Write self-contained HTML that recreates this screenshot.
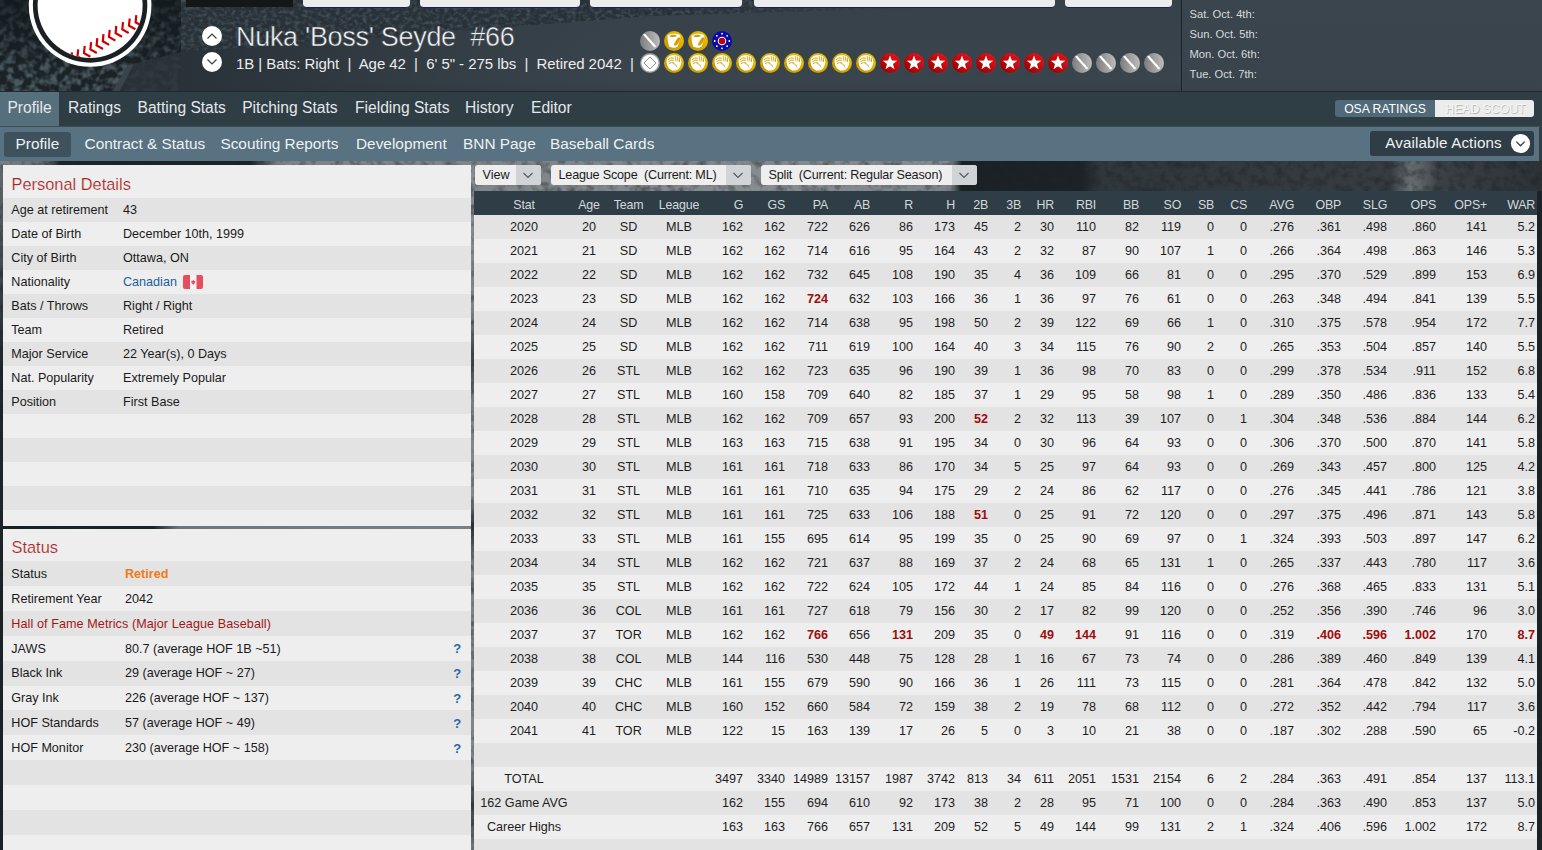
<!DOCTYPE html>
<html><head><meta charset="utf-8"><title>Player Profile</title>
<style>
html,body{margin:0;padding:0;}
body{width:1542px;height:850px;overflow:hidden;position:relative;background:#22292d;font-family:'Liberation Sans', sans-serif;}
body>div{position:absolute;}
.t{white-space:pre;}
</style></head><body>
<div style="left:0px;top:0px;width:1542px;height:92px;background:#39434b;"></div>
<div style="left:181px;top:0px;width:1000px;height:92px;background:linear-gradient(180deg,#37414a 0px,#39434b 50px,#3a444c 80px,#363f47 92px);"></div>
<svg style="position:absolute;left:181px;top:0" width="1000" height="92">
<defs><filter id="crowd2" x="0" y="0" width="100%" height="100%" color-interpolation-filters="sRGB">
<feTurbulence type="fractalNoise" baseFrequency="0.22 0.28" numOctaves="2" seed="5"/>
<feColorMatrix type="matrix" values="0 0 0 0 0.26  0 0 0 0 0.31  0 0 0 0 0.34  2.6 0 0 0 -1.1"/>
</filter>
<linearGradient id="fdark" x1="0" x2="1" y1="0" y2="0"><stop offset="0" stop-color="#283137" stop-opacity="0.95"/><stop offset="0.12" stop-color="#2b343a" stop-opacity="0.8"/><stop offset="0.45" stop-color="#2f3940" stop-opacity="0"/></linearGradient>
<linearGradient id="sfade" x1="0" x2="1" y1="0" y2="0"><stop offset="0" stop-color="#fff"/><stop offset="0.5" stop-color="#fff"/><stop offset="0.75" stop-color="#000"/></linearGradient>
<mask id="smask"><rect width="1000" height="92" fill="url(#sfade)"/></mask>
<clipPath id="stands"><path d="M0,0 L1000,0 L1000,4 L700,9 L470,16 L290,30 L120,44 L0,52 Z"/></clipPath>
</defs>
<rect width="1000" height="92" fill="url(#fdark)"/>
<g mask="url(#smask)" clip-path="url(#stands)"><rect width="1000" height="92" fill="#283137"/><rect width="1000" height="92" filter="url(#crowd2)"/></g>
</svg>
<div style="left:1182px;top:0px;width:360px;height:92px;background:linear-gradient(180deg,#3b454d,#39434b);"></div>
<div style="left:1181px;top:0px;width:1px;height:92px;background:#1d2327;"></div>
<svg style="position:absolute;left:0;top:0" width="181" height="92">
<defs><filter id="crowd" x="0" y="0" width="100%" height="100%" color-interpolation-filters="sRGB">
<feTurbulence type="fractalNoise" baseFrequency="0.14" numOctaves="2" seed="11"/>
<feColorMatrix type="matrix" values="0 0 0 0 0.29  0 0 0 0 0.35  0 0 0 0 0.38  3.2 0 0 0 -1.3"/>
</filter>
<linearGradient id="cfade" x1="0" x2="1" y1="0" y2="0"><stop offset="0.75" stop-color="#1d262b" stop-opacity="0"/><stop offset="1" stop-color="#1d262b" stop-opacity="0.6"/></linearGradient>
</defs>
<linearGradient id="ctop" x1="0" x2="0" y1="0" y2="1"><stop offset="0" stop-color="#10171a" stop-opacity="0.75"/><stop offset="0.45" stop-color="#10171a" stop-opacity="0.35"/><stop offset="0.8" stop-color="#10171a" stop-opacity="0"/></linearGradient>
<rect width="181" height="92" fill="#1b2327"/>
<rect width="181" height="92" filter="url(#crowd)"/>
<rect width="181" height="92" fill="url(#ctop)"/>
<path d="M128,65 L181,52 L181,92 L112,92 Z" fill="#2a343a" opacity="0.85"/>
<path d="M112,92 L128,65 L134,64 L119,92 Z" fill="#3b474e" opacity="0.9"/>
</svg>
<div style="left:186px;top:0px;width:107px;height:7px;background:#131718;"></div>
<div style="left:303px;top:-3px;width:107px;height:11px;background:#ececec;border-bottom:1.2px solid #141f6e;border-radius:0 0 4px 4px;box-sizing:border-box;"></div>
<div style="left:420px;top:-3px;width:160px;height:11px;background:#ececec;border-bottom:1.2px solid #141f6e;border-radius:0 0 4px 4px;box-sizing:border-box;"></div>
<div style="left:590px;top:-3px;width:152px;height:11px;background:#ececec;border-bottom:1.2px solid #141f6e;border-radius:0 0 4px 4px;box-sizing:border-box;"></div>
<div style="left:754px;top:-3px;width:301px;height:11px;background:#ececec;border-bottom:1.2px solid #141f6e;border-radius:0 0 4px 4px;box-sizing:border-box;"></div>
<div style="left:1065px;top:-3px;width:107px;height:11px;background:#ececec;border-bottom:1.2px solid #141f6e;border-radius:0 0 4px 4px;box-sizing:border-box;"></div>
<svg style="position:absolute;left:0;top:0" width="181" height="92" viewBox="0 0 181 92">
<circle cx="90.1" cy="5.5" r="61.3" fill="#fff"/>
<circle cx="90.1" cy="5.5" r="57.2" fill="#1a2125"/>
<circle cx="90.1" cy="5.5" r="52.5" fill="#fff"/>
<clipPath id="inner"><circle cx="90.1" cy="5.5" r="52.5"/></clipPath>
<g stroke="#d00000" stroke-width="2.2" fill="none" stroke-linecap="butt" stroke-linejoin="miter" clip-path="url(#inner)">
<path d="M72.00,52.40 L71.30,59.60 L77.70,63.20" /><path d="M78.20,49.30 L77.50,56.50 L83.90,60.10" /><path d="M84.70,46.00 L84.00,53.20 L90.40,56.80" /><path d="M91.10,42.20 L90.40,49.40 L96.80,53.00" /><path d="M97.30,38.20 L96.60,45.40 L103.00,49.00" /><path d="M103.50,34.10 L102.80,41.30 L109.20,44.90" /><path d="M109.70,29.80 L109.00,37.00 L115.40,40.60" /><path d="M116.30,25.90 L115.60,33.10 L122.00,36.70" /><path d="M123.00,22.20 L122.30,29.40 L128.70,33.00" /><path d="M129.70,18.50 L129.00,25.70 L135.40,29.30" /><path d="M136.30,15.10 L135.60,22.30 L142.00,25.90" /></g></svg>
<svg style="position:absolute;left:201px;top:25px" width="22" height="48" viewBox="0 0 22 48">
<circle cx="11" cy="11" r="10" fill="#fff"/>
<path d="M6.5,13.5 L11,9 L15.5,13.5" stroke="#3a3f44" stroke-width="1.2" fill="none"/>
<circle cx="11" cy="37" r="10" fill="#fff"/>
<path d="M6.5,34.5 L11,39 L15.5,34.5" stroke="#3a3f44" stroke-width="1.2" fill="none"/>
</svg>
<div class="t" style="top:24.05px;font-size:27px;line-height:27px;color:#f4f4f4;letter-spacing:-0.3px;left:236px;-webkit-text-stroke:0.5px #37414a;">Nuka &#x27;Boss&#x27; Seyde  #66</div>
<div class="t" style="top:56.25px;font-size:15px;line-height:15px;color:#ececec;letter-spacing:-0.05px;left:236px;">1B | Bats: Right  |  Age 42  |  6&#x27; 5&quot; - 275 lbs  |  Retired 2042  |</div>
<div class="t" style="top:8.88px;font-size:11.2px;line-height:11.2px;color:#d7dadc;left:1189.5px;">Sat. Oct. 4th:</div>
<div class="t" style="top:28.88px;font-size:11.2px;line-height:11.2px;color:#d7dadc;left:1189.5px;">Sun. Oct. 5th:</div>
<div class="t" style="top:48.88px;font-size:11.2px;line-height:11.2px;color:#d7dadc;left:1189.5px;">Mon. Oct. 6th:</div>
<div class="t" style="top:68.88px;font-size:11.2px;line-height:11.2px;color:#d7dadc;left:1189.5px;">Tue. Oct. 7th:</div>
<svg style="position:absolute;left:639px;top:30px" width="22" height="22" viewBox="0 0 22 22"><defs><linearGradient id="gb" x1="0" x2="1" y1="0" y2="0"><stop offset="0" stop-color="#7d7d7d"/><stop offset="1" stop-color="#bdbdbd"/></linearGradient></defs>
<circle cx="11" cy="11" r="10" fill="url(#gb)"/><path d="M5.5,4.8 L15.8,16.2" stroke="#fff" stroke-width="2.2" stroke-linecap="round"/></svg>
<svg style="position:absolute;left:663px;top:30px" width="22" height="22" viewBox="0 0 22 22"><defs><linearGradient id="gc" x1="0" x2="1" y1="1" y2="0"><stop offset="0" stop-color="#c29400"/><stop offset="1" stop-color="#f4c400"/></linearGradient></defs>
<circle cx="11" cy="11" r="10" fill="url(#gc)"/><path d="M4.6,5.6 C7.5,3.4 13,3.2 16.8,5 C17.6,6 17.4,8.5 16.6,10.5 L14.6,16.4 C12,18.2 8.5,18 6.2,16.6 C5,13 4.5,9 4.6,5.6 Z" fill="#fff"/>
<path d="M6.2,6.2 C8,4.4 12,4.2 14,5.6 C12.5,7.4 8.6,7.6 6.2,6.2 Z" fill="#d1a000"/>
<ellipse cx="14.2" cy="11.6" rx="1.7" ry="4.8" transform="rotate(32 14.2 11.6)" fill="#d1a000"/></svg>
<svg style="position:absolute;left:687px;top:30px" width="22" height="22" viewBox="0 0 22 22"><defs><linearGradient id="gc" x1="0" x2="1" y1="1" y2="0"><stop offset="0" stop-color="#c29400"/><stop offset="1" stop-color="#f4c400"/></linearGradient></defs>
<circle cx="11" cy="11" r="10" fill="url(#gc)"/><path d="M4.6,5.6 C7.5,3.4 13,3.2 16.8,5 C17.6,6 17.4,8.5 16.6,10.5 L14.6,16.4 C12,18.2 8.5,18 6.2,16.6 C5,13 4.5,9 4.6,5.6 Z" fill="#fff"/>
<path d="M6.2,6.2 C8,4.4 12,4.2 14,5.6 C12.5,7.4 8.6,7.6 6.2,6.2 Z" fill="#d1a000"/>
<ellipse cx="14.2" cy="11.6" rx="1.7" ry="4.8" transform="rotate(32 14.2 11.6)" fill="#d1a000"/></svg>
<svg style="position:absolute;left:711px;top:30px" width="22" height="22" viewBox="0 0 22 22"><circle cx="11" cy="11" r="10" fill="#0a0aa6"/><circle cx="18.30" cy="11.00" r="0.9" fill="#fff"/><circle cx="16.16" cy="16.16" r="0.9" fill="#fff"/><circle cx="11.00" cy="18.30" r="0.9" fill="#fff"/><circle cx="5.84" cy="16.16" r="0.9" fill="#fff"/><circle cx="3.70" cy="11.00" r="0.9" fill="#fff"/><circle cx="5.84" cy="5.84" r="0.9" fill="#fff"/><circle cx="11.00" cy="3.70" r="0.9" fill="#fff"/><circle cx="16.16" cy="5.84" r="0.9" fill="#fff"/><circle cx="11" cy="11" r="4.3" fill="#fff"/><circle cx="11" cy="11" r="3.3" fill="#c00010"/></svg>
<svg style="position:absolute;left:639px;top:52px" width="22" height="22" viewBox="0 0 22 22"><circle cx="11" cy="11" r="10" fill="#9a9a9a"/><circle cx="11" cy="11" r="8.6" fill="#fff"/>
<path d="M11,5 L17,11 L11,17 L5,11 Z" fill="none" stroke="#777" stroke-width="0.8"/></svg>
<svg style="position:absolute;left:663px;top:52px" width="22" height="22" viewBox="0 0 22 22"><defs><linearGradient id="gg" x1="0" x2="1" y1="1" y2="0"><stop offset="0" stop-color="#c29400"/><stop offset="1" stop-color="#f4c400"/></linearGradient></defs>
<circle cx="11" cy="11" r="10" fill="url(#gg)"/><path d="M3.6,9 C3.8,5 7,3.2 11,3.3 C15,3.3 18,5 18.3,9 C18.6,14 15.5,18.6 11,18.6 C6.5,18.6 3.4,14 3.6,9 Z" fill="#fff"/>
<path d="M4.8,8 Q8,4.6 11.2,6.2 M5.2,10 Q8,7 11,8.3 M6,11.8 Q8.5,9.6 10.6,10.4 M12.6,4.3 L12.9,9.2 M14.6,4.6 L14.9,9.6 M16.4,5.8 L16.5,10.2 M9.6,11.2 Q12.8,11.6 14,15.2" stroke="#c99c00" stroke-width="0.85" fill="none"/></svg>
<svg style="position:absolute;left:687px;top:52px" width="22" height="22" viewBox="0 0 22 22"><defs><linearGradient id="gg" x1="0" x2="1" y1="1" y2="0"><stop offset="0" stop-color="#c29400"/><stop offset="1" stop-color="#f4c400"/></linearGradient></defs>
<circle cx="11" cy="11" r="10" fill="url(#gg)"/><path d="M3.6,9 C3.8,5 7,3.2 11,3.3 C15,3.3 18,5 18.3,9 C18.6,14 15.5,18.6 11,18.6 C6.5,18.6 3.4,14 3.6,9 Z" fill="#fff"/>
<path d="M4.8,8 Q8,4.6 11.2,6.2 M5.2,10 Q8,7 11,8.3 M6,11.8 Q8.5,9.6 10.6,10.4 M12.6,4.3 L12.9,9.2 M14.6,4.6 L14.9,9.6 M16.4,5.8 L16.5,10.2 M9.6,11.2 Q12.8,11.6 14,15.2" stroke="#c99c00" stroke-width="0.85" fill="none"/></svg>
<svg style="position:absolute;left:711px;top:52px" width="22" height="22" viewBox="0 0 22 22"><defs><linearGradient id="gg" x1="0" x2="1" y1="1" y2="0"><stop offset="0" stop-color="#c29400"/><stop offset="1" stop-color="#f4c400"/></linearGradient></defs>
<circle cx="11" cy="11" r="10" fill="url(#gg)"/><path d="M3.6,9 C3.8,5 7,3.2 11,3.3 C15,3.3 18,5 18.3,9 C18.6,14 15.5,18.6 11,18.6 C6.5,18.6 3.4,14 3.6,9 Z" fill="#fff"/>
<path d="M4.8,8 Q8,4.6 11.2,6.2 M5.2,10 Q8,7 11,8.3 M6,11.8 Q8.5,9.6 10.6,10.4 M12.6,4.3 L12.9,9.2 M14.6,4.6 L14.9,9.6 M16.4,5.8 L16.5,10.2 M9.6,11.2 Q12.8,11.6 14,15.2" stroke="#c99c00" stroke-width="0.85" fill="none"/></svg>
<svg style="position:absolute;left:735px;top:52px" width="22" height="22" viewBox="0 0 22 22"><defs><linearGradient id="gg" x1="0" x2="1" y1="1" y2="0"><stop offset="0" stop-color="#c29400"/><stop offset="1" stop-color="#f4c400"/></linearGradient></defs>
<circle cx="11" cy="11" r="10" fill="url(#gg)"/><path d="M3.6,9 C3.8,5 7,3.2 11,3.3 C15,3.3 18,5 18.3,9 C18.6,14 15.5,18.6 11,18.6 C6.5,18.6 3.4,14 3.6,9 Z" fill="#fff"/>
<path d="M4.8,8 Q8,4.6 11.2,6.2 M5.2,10 Q8,7 11,8.3 M6,11.8 Q8.5,9.6 10.6,10.4 M12.6,4.3 L12.9,9.2 M14.6,4.6 L14.9,9.6 M16.4,5.8 L16.5,10.2 M9.6,11.2 Q12.8,11.6 14,15.2" stroke="#c99c00" stroke-width="0.85" fill="none"/></svg>
<svg style="position:absolute;left:759px;top:52px" width="22" height="22" viewBox="0 0 22 22"><defs><linearGradient id="gg" x1="0" x2="1" y1="1" y2="0"><stop offset="0" stop-color="#c29400"/><stop offset="1" stop-color="#f4c400"/></linearGradient></defs>
<circle cx="11" cy="11" r="10" fill="url(#gg)"/><path d="M3.6,9 C3.8,5 7,3.2 11,3.3 C15,3.3 18,5 18.3,9 C18.6,14 15.5,18.6 11,18.6 C6.5,18.6 3.4,14 3.6,9 Z" fill="#fff"/>
<path d="M4.8,8 Q8,4.6 11.2,6.2 M5.2,10 Q8,7 11,8.3 M6,11.8 Q8.5,9.6 10.6,10.4 M12.6,4.3 L12.9,9.2 M14.6,4.6 L14.9,9.6 M16.4,5.8 L16.5,10.2 M9.6,11.2 Q12.8,11.6 14,15.2" stroke="#c99c00" stroke-width="0.85" fill="none"/></svg>
<svg style="position:absolute;left:783px;top:52px" width="22" height="22" viewBox="0 0 22 22"><defs><linearGradient id="gg" x1="0" x2="1" y1="1" y2="0"><stop offset="0" stop-color="#c29400"/><stop offset="1" stop-color="#f4c400"/></linearGradient></defs>
<circle cx="11" cy="11" r="10" fill="url(#gg)"/><path d="M3.6,9 C3.8,5 7,3.2 11,3.3 C15,3.3 18,5 18.3,9 C18.6,14 15.5,18.6 11,18.6 C6.5,18.6 3.4,14 3.6,9 Z" fill="#fff"/>
<path d="M4.8,8 Q8,4.6 11.2,6.2 M5.2,10 Q8,7 11,8.3 M6,11.8 Q8.5,9.6 10.6,10.4 M12.6,4.3 L12.9,9.2 M14.6,4.6 L14.9,9.6 M16.4,5.8 L16.5,10.2 M9.6,11.2 Q12.8,11.6 14,15.2" stroke="#c99c00" stroke-width="0.85" fill="none"/></svg>
<svg style="position:absolute;left:807px;top:52px" width="22" height="22" viewBox="0 0 22 22"><defs><linearGradient id="gg" x1="0" x2="1" y1="1" y2="0"><stop offset="0" stop-color="#c29400"/><stop offset="1" stop-color="#f4c400"/></linearGradient></defs>
<circle cx="11" cy="11" r="10" fill="url(#gg)"/><path d="M3.6,9 C3.8,5 7,3.2 11,3.3 C15,3.3 18,5 18.3,9 C18.6,14 15.5,18.6 11,18.6 C6.5,18.6 3.4,14 3.6,9 Z" fill="#fff"/>
<path d="M4.8,8 Q8,4.6 11.2,6.2 M5.2,10 Q8,7 11,8.3 M6,11.8 Q8.5,9.6 10.6,10.4 M12.6,4.3 L12.9,9.2 M14.6,4.6 L14.9,9.6 M16.4,5.8 L16.5,10.2 M9.6,11.2 Q12.8,11.6 14,15.2" stroke="#c99c00" stroke-width="0.85" fill="none"/></svg>
<svg style="position:absolute;left:831px;top:52px" width="22" height="22" viewBox="0 0 22 22"><defs><linearGradient id="gg" x1="0" x2="1" y1="1" y2="0"><stop offset="0" stop-color="#c29400"/><stop offset="1" stop-color="#f4c400"/></linearGradient></defs>
<circle cx="11" cy="11" r="10" fill="url(#gg)"/><path d="M3.6,9 C3.8,5 7,3.2 11,3.3 C15,3.3 18,5 18.3,9 C18.6,14 15.5,18.6 11,18.6 C6.5,18.6 3.4,14 3.6,9 Z" fill="#fff"/>
<path d="M4.8,8 Q8,4.6 11.2,6.2 M5.2,10 Q8,7 11,8.3 M6,11.8 Q8.5,9.6 10.6,10.4 M12.6,4.3 L12.9,9.2 M14.6,4.6 L14.9,9.6 M16.4,5.8 L16.5,10.2 M9.6,11.2 Q12.8,11.6 14,15.2" stroke="#c99c00" stroke-width="0.85" fill="none"/></svg>
<svg style="position:absolute;left:855px;top:52px" width="22" height="22" viewBox="0 0 22 22"><defs><linearGradient id="gg" x1="0" x2="1" y1="1" y2="0"><stop offset="0" stop-color="#c29400"/><stop offset="1" stop-color="#f4c400"/></linearGradient></defs>
<circle cx="11" cy="11" r="10" fill="url(#gg)"/><path d="M3.6,9 C3.8,5 7,3.2 11,3.3 C15,3.3 18,5 18.3,9 C18.6,14 15.5,18.6 11,18.6 C6.5,18.6 3.4,14 3.6,9 Z" fill="#fff"/>
<path d="M4.8,8 Q8,4.6 11.2,6.2 M5.2,10 Q8,7 11,8.3 M6,11.8 Q8.5,9.6 10.6,10.4 M12.6,4.3 L12.9,9.2 M14.6,4.6 L14.9,9.6 M16.4,5.8 L16.5,10.2 M9.6,11.2 Q12.8,11.6 14,15.2" stroke="#c99c00" stroke-width="0.85" fill="none"/></svg>
<svg style="position:absolute;left:879px;top:52px" width="22" height="22" viewBox="0 0 22 22"><defs><linearGradient id="gs" x1="0" x2="1" y1="1" y2="0"><stop offset="0" stop-color="#8e0000"/><stop offset="1" stop-color="#f0151d"/></linearGradient></defs>
<circle cx="11" cy="11" r="10" fill="url(#gs)"/><path d="M11,3.6 L12.9,8.6 L18.2,8.8 L14,12.1 L15.5,17.3 L11,14.3 L6.5,17.3 L8,12.1 L3.8,8.8 L9.1,8.6 Z" fill="#fff"/></svg>
<svg style="position:absolute;left:903px;top:52px" width="22" height="22" viewBox="0 0 22 22"><defs><linearGradient id="gs" x1="0" x2="1" y1="1" y2="0"><stop offset="0" stop-color="#8e0000"/><stop offset="1" stop-color="#f0151d"/></linearGradient></defs>
<circle cx="11" cy="11" r="10" fill="url(#gs)"/><path d="M11,3.6 L12.9,8.6 L18.2,8.8 L14,12.1 L15.5,17.3 L11,14.3 L6.5,17.3 L8,12.1 L3.8,8.8 L9.1,8.6 Z" fill="#fff"/></svg>
<svg style="position:absolute;left:927px;top:52px" width="22" height="22" viewBox="0 0 22 22"><defs><linearGradient id="gs" x1="0" x2="1" y1="1" y2="0"><stop offset="0" stop-color="#8e0000"/><stop offset="1" stop-color="#f0151d"/></linearGradient></defs>
<circle cx="11" cy="11" r="10" fill="url(#gs)"/><path d="M11,3.6 L12.9,8.6 L18.2,8.8 L14,12.1 L15.5,17.3 L11,14.3 L6.5,17.3 L8,12.1 L3.8,8.8 L9.1,8.6 Z" fill="#fff"/></svg>
<svg style="position:absolute;left:951px;top:52px" width="22" height="22" viewBox="0 0 22 22"><defs><linearGradient id="gs" x1="0" x2="1" y1="1" y2="0"><stop offset="0" stop-color="#8e0000"/><stop offset="1" stop-color="#f0151d"/></linearGradient></defs>
<circle cx="11" cy="11" r="10" fill="url(#gs)"/><path d="M11,3.6 L12.9,8.6 L18.2,8.8 L14,12.1 L15.5,17.3 L11,14.3 L6.5,17.3 L8,12.1 L3.8,8.8 L9.1,8.6 Z" fill="#fff"/></svg>
<svg style="position:absolute;left:975px;top:52px" width="22" height="22" viewBox="0 0 22 22"><defs><linearGradient id="gs" x1="0" x2="1" y1="1" y2="0"><stop offset="0" stop-color="#8e0000"/><stop offset="1" stop-color="#f0151d"/></linearGradient></defs>
<circle cx="11" cy="11" r="10" fill="url(#gs)"/><path d="M11,3.6 L12.9,8.6 L18.2,8.8 L14,12.1 L15.5,17.3 L11,14.3 L6.5,17.3 L8,12.1 L3.8,8.8 L9.1,8.6 Z" fill="#fff"/></svg>
<svg style="position:absolute;left:999px;top:52px" width="22" height="22" viewBox="0 0 22 22"><defs><linearGradient id="gs" x1="0" x2="1" y1="1" y2="0"><stop offset="0" stop-color="#8e0000"/><stop offset="1" stop-color="#f0151d"/></linearGradient></defs>
<circle cx="11" cy="11" r="10" fill="url(#gs)"/><path d="M11,3.6 L12.9,8.6 L18.2,8.8 L14,12.1 L15.5,17.3 L11,14.3 L6.5,17.3 L8,12.1 L3.8,8.8 L9.1,8.6 Z" fill="#fff"/></svg>
<svg style="position:absolute;left:1023px;top:52px" width="22" height="22" viewBox="0 0 22 22"><defs><linearGradient id="gs" x1="0" x2="1" y1="1" y2="0"><stop offset="0" stop-color="#8e0000"/><stop offset="1" stop-color="#f0151d"/></linearGradient></defs>
<circle cx="11" cy="11" r="10" fill="url(#gs)"/><path d="M11,3.6 L12.9,8.6 L18.2,8.8 L14,12.1 L15.5,17.3 L11,14.3 L6.5,17.3 L8,12.1 L3.8,8.8 L9.1,8.6 Z" fill="#fff"/></svg>
<svg style="position:absolute;left:1047px;top:52px" width="22" height="22" viewBox="0 0 22 22"><defs><linearGradient id="gs" x1="0" x2="1" y1="1" y2="0"><stop offset="0" stop-color="#8e0000"/><stop offset="1" stop-color="#f0151d"/></linearGradient></defs>
<circle cx="11" cy="11" r="10" fill="url(#gs)"/><path d="M11,3.6 L12.9,8.6 L18.2,8.8 L14,12.1 L15.5,17.3 L11,14.3 L6.5,17.3 L8,12.1 L3.8,8.8 L9.1,8.6 Z" fill="#fff"/></svg>
<svg style="position:absolute;left:1071px;top:52px" width="22" height="22" viewBox="0 0 22 22"><defs><linearGradient id="gb" x1="0" x2="1" y1="0" y2="0"><stop offset="0" stop-color="#7d7d7d"/><stop offset="1" stop-color="#bdbdbd"/></linearGradient></defs>
<circle cx="11" cy="11" r="10" fill="url(#gb)"/><path d="M5.5,4.8 L15.8,16.2" stroke="#fff" stroke-width="2.2" stroke-linecap="round"/></svg>
<svg style="position:absolute;left:1095px;top:52px" width="22" height="22" viewBox="0 0 22 22"><defs><linearGradient id="gb" x1="0" x2="1" y1="0" y2="0"><stop offset="0" stop-color="#7d7d7d"/><stop offset="1" stop-color="#bdbdbd"/></linearGradient></defs>
<circle cx="11" cy="11" r="10" fill="url(#gb)"/><path d="M5.5,4.8 L15.8,16.2" stroke="#fff" stroke-width="2.2" stroke-linecap="round"/></svg>
<svg style="position:absolute;left:1119px;top:52px" width="22" height="22" viewBox="0 0 22 22"><defs><linearGradient id="gb" x1="0" x2="1" y1="0" y2="0"><stop offset="0" stop-color="#7d7d7d"/><stop offset="1" stop-color="#bdbdbd"/></linearGradient></defs>
<circle cx="11" cy="11" r="10" fill="url(#gb)"/><path d="M5.5,4.8 L15.8,16.2" stroke="#fff" stroke-width="2.2" stroke-linecap="round"/></svg>
<svg style="position:absolute;left:1143px;top:52px" width="22" height="22" viewBox="0 0 22 22"><defs><linearGradient id="gb" x1="0" x2="1" y1="0" y2="0"><stop offset="0" stop-color="#7d7d7d"/><stop offset="1" stop-color="#bdbdbd"/></linearGradient></defs>
<circle cx="11" cy="11" r="10" fill="url(#gb)"/><path d="M5.5,4.8 L15.8,16.2" stroke="#fff" stroke-width="2.2" stroke-linecap="round"/></svg>
<div style="left:0px;top:91px;width:1542px;height:1px;background:#20292e;"></div>
<div style="left:0px;top:92px;width:1542px;height:34px;background:#2f3d45;"></div>
<div style="left:0px;top:92px;width:59px;height:34px;background:#566f7c;"></div>
<div class="t" style="top:99.64px;font-size:15.6px;line-height:15.6px;color:#e4e8ea;left:7.4px;">Profile</div>
<div class="t" style="top:99.64px;font-size:15.6px;line-height:15.6px;color:#e4e8ea;left:68.1px;">Ratings</div>
<div class="t" style="top:99.64px;font-size:15.6px;line-height:15.6px;color:#e4e8ea;left:137.5px;">Batting Stats</div>
<div class="t" style="top:99.64px;font-size:15.6px;line-height:15.6px;color:#e4e8ea;left:242.2px;">Pitching Stats</div>
<div class="t" style="top:99.64px;font-size:15.6px;line-height:15.6px;color:#e4e8ea;left:355px;">Fielding Stats</div>
<div class="t" style="top:99.64px;font-size:15.6px;line-height:15.6px;color:#e4e8ea;left:465px;">History</div>
<div class="t" style="top:99.64px;font-size:15.6px;line-height:15.6px;color:#e4e8ea;left:531px;">Editor</div>
<div style="left:1335px;top:100px;width:100px;height:17px;background:#506a79;border-radius:3px 0 0 3px;"></div>
<div style="left:1435px;top:100px;width:99px;height:17px;background:#ececec;border-radius:0 3px 3px 0;"></div>
<div class="t" style="top:102.83px;font-size:12.2px;line-height:12.2px;color:#ffffff;left:1085px;width:600px;text-align:center;">OSA RATINGS</div>
<div class="t" style="top:102.83px;font-size:12.2px;line-height:12.2px;color:#f6f6f6;left:1185.5px;width:600px;text-align:center;text-shadow:0.8px 0.8px 0.6px #b8b8b8;">HEAD SCOUT</div>
<div style="left:0px;top:126px;width:1542px;height:1px;background:#3c4d56;"></div>
<div style="left:0px;top:127px;width:1539px;height:34px;background:#587281;"></div>
<div style="left:1539px;top:127px;width:3px;height:34px;background:#2f3d45;"></div>
<div style="left:4px;top:132px;width:67px;height:25px;background:#3e525e;border-radius:3px;"></div>
<div class="t" style="top:135.71px;font-size:15.4px;line-height:15.4px;color:#eef1f3;left:15.6px;">Profile</div>
<div class="t" style="top:135.71px;font-size:15.4px;line-height:15.4px;color:#eef1f3;left:84.6px;">Contract &amp; Status</div>
<div class="t" style="top:135.71px;font-size:15.4px;line-height:15.4px;color:#eef1f3;left:220.4px;">Scouting Reports</div>
<div class="t" style="top:135.71px;font-size:15.4px;line-height:15.4px;color:#eef1f3;left:356px;">Development</div>
<div class="t" style="top:135.71px;font-size:15.4px;line-height:15.4px;color:#eef1f3;left:463px;">BNN Page</div>
<div class="t" style="top:135.71px;font-size:15.4px;line-height:15.4px;color:#eef1f3;left:550px;">Baseball Cards</div>
<div style="left:1370px;top:131px;width:164px;height:25px;background:#2f3e46;border-radius:3px;"></div>
<div class="t" style="top:134.98px;font-size:15.2px;line-height:15.2px;color:#eef0f1;letter-spacing:0.12px;left:1385.2px;">Available Actions</div>
<svg style="position:absolute;left:1510px;top:133px" width="21" height="21" viewBox="0 0 21 21">
<circle cx="10.5" cy="10.5" r="9.6" fill="#fff"/><path d="M6.3,8.6 L10.5,12.8 L14.7,8.6" stroke="#2f3e46" stroke-width="1.3" fill="none"/></svg>
<div style="left:0px;top:161px;width:1542px;height:689px;background:#22292d;"></div>
<div style="left:0px;top:161px;width:1542px;height:4px;background:linear-gradient(90deg,#7a8084 0px,#6a7073 45px,#1e2528 60px,#1c2326 250px,#7d8386 280px,#858b8e 950px,#1b2226 962px,#1d2327 1080px,#30373b 1100px,#353b3f 1390px,#6b7174 1410px,#3a4044 1440px,#2c3236 1542px);"></div>
<div style="left:471px;top:165px;width:1071px;height:26px;background:linear-gradient(90deg,#80868a 0px,#878d90 300px,#7e8487 480px,#1b2226 490px,#1d2327 610px,#30373b 630px,#363c40 920px,#6b7174 940px,#3a4044 970px,#2c3236 1071px);"></div>
<div style="left:0px;top:165px;width:3px;height:685px;background:linear-gradient(180deg,#646b6f 0px,#4a5256 80px,#1f272b 200px,#1b2225 685px);"></div>
<div style="left:471px;top:165px;width:3px;height:685px;background:linear-gradient(180deg,#8a9093 0px,#7d8386 150px,#3a4245 190px,#7f8588 240px,#848a8d 330px,#2e3538 360px,#7b8184 400px,#808689 600px,#3a4144 640px,#7c8285 690px);"></div>
<div style="left:1537px;top:191px;width:5px;height:659px;background:#1d2427;"></div>
<svg style="position:absolute;left:0;top:161px" width="1542" height="689">
<defs><filter id="tex" x="0" y="0" width="100%" height="100%" color-interpolation-filters="sRGB">
<feTurbulence type="fractalNoise" baseFrequency="0.12" numOctaves="3" seed="7"/>
<feColorMatrix type="matrix" values="0 0 0 0 0.1  0 0 0 0 0.12  0 0 0 0 0.13  -2.5 0 0 0 1.45"/>
</filter></defs>
<rect x="0" y="0" width="1542" height="689" filter="url(#tex)" opacity="0.45"/>
</svg>
<div style="left:3px;top:165px;width:468px;height:361px;background:#eeeeee;"></div>
<div style="left:3px;top:198px;width:468px;height:24px;background:#e3e3e3;"></div>
<div style="left:3px;top:246px;width:468px;height:24px;background:#e3e3e3;"></div>
<div style="left:3px;top:294px;width:468px;height:24px;background:#e3e3e3;"></div>
<div style="left:3px;top:342px;width:468px;height:24px;background:#e3e3e3;"></div>
<div style="left:3px;top:390px;width:468px;height:24px;background:#e3e3e3;"></div>
<div style="left:3px;top:438px;width:468px;height:24px;background:#e3e3e3;"></div>
<div style="left:3px;top:486px;width:468px;height:24px;background:#e3e3e3;"></div>
<div class="t" style="top:175.76px;font-size:16.4px;line-height:16.4px;color:#a82224;left:11.5px;-webkit-text-stroke:0.2px #eeeeee;">Personal Details</div>
<div class="t" style="top:204.49px;font-size:12.6px;line-height:12.6px;color:#1a1a1a;left:11.3px;">Age at retirement</div>
<div class="t" style="top:204.49px;font-size:12.6px;line-height:12.6px;color:#1a1a1a;left:123px;">43</div>
<div class="t" style="top:228.49px;font-size:12.6px;line-height:12.6px;color:#1a1a1a;left:11.3px;">Date of Birth</div>
<div class="t" style="top:228.49px;font-size:12.6px;line-height:12.6px;color:#1a1a1a;left:123px;">December 10th, 1999</div>
<div class="t" style="top:252.49px;font-size:12.6px;line-height:12.6px;color:#1a1a1a;left:11.3px;">City of Birth</div>
<div class="t" style="top:252.49px;font-size:12.6px;line-height:12.6px;color:#1a1a1a;left:123px;">Ottawa, ON</div>
<div class="t" style="top:276.49px;font-size:12.6px;line-height:12.6px;color:#1a1a1a;left:11.3px;">Nationality</div>
<div class="t" style="top:276.49px;font-size:12.6px;line-height:12.6px;color:#1b5e9f;left:123px;">Canadian</div>
<svg style="position:absolute;left:183px;top:274.9px" width="20" height="14" viewBox="0 0 20 14"><rect width="20" height="14" fill="#e34f5f" rx="2"/><rect x="7" width="6.5" height="14" fill="#f4f4f4"/><path d="M10.25,4.6 L11,6 L12.3,5.6 L11.8,7.6 L12.6,7.6 L10.5,9.2 L10.5,10.2 L10,10.2 L10,9.2 L7.9,7.6 L8.7,7.6 L8.2,5.6 L9.5,6 Z" fill="#e34f5f"/></svg>
<div class="t" style="top:300.49px;font-size:12.6px;line-height:12.6px;color:#1a1a1a;left:11.3px;">Bats / Throws</div>
<div class="t" style="top:300.49px;font-size:12.6px;line-height:12.6px;color:#1a1a1a;left:123px;">Right / Right</div>
<div class="t" style="top:324.49px;font-size:12.6px;line-height:12.6px;color:#1a1a1a;left:11.3px;">Team</div>
<div class="t" style="top:324.49px;font-size:12.6px;line-height:12.6px;color:#1a1a1a;left:123px;">Retired</div>
<div class="t" style="top:348.49px;font-size:12.6px;line-height:12.6px;color:#1a1a1a;left:11.3px;">Major Service</div>
<div class="t" style="top:348.49px;font-size:12.6px;line-height:12.6px;color:#1a1a1a;left:123px;">22 Year(s), 0 Days</div>
<div class="t" style="top:372.49px;font-size:12.6px;line-height:12.6px;color:#1a1a1a;left:11.3px;">Nat. Popularity</div>
<div class="t" style="top:372.49px;font-size:12.6px;line-height:12.6px;color:#1a1a1a;left:123px;">Extremely Popular</div>
<div class="t" style="top:396.49px;font-size:12.6px;line-height:12.6px;color:#1a1a1a;left:11.3px;">Position</div>
<div class="t" style="top:396.49px;font-size:12.6px;line-height:12.6px;color:#1a1a1a;left:123px;">First Base</div>
<div style="left:3px;top:526px;width:468px;height:3px;background:linear-gradient(90deg,#1a2124 0px,#1c2326 150px,#6f7578 175px,#7a8083 468px);"></div>
<div style="left:3px;top:529px;width:468px;height:321px;background:#eeeeee;"></div>
<div style="left:3px;top:561px;width:468px;height:25px;background:#e3e3e3;"></div>
<div style="left:3px;top:611px;width:468px;height:25px;background:#e3e3e3;"></div>
<div style="left:3px;top:661px;width:468px;height:25px;background:#e3e3e3;"></div>
<div style="left:3px;top:710px;width:468px;height:25px;background:#e3e3e3;"></div>
<div style="left:3px;top:760px;width:468px;height:25px;background:#e3e3e3;"></div>
<div style="left:3px;top:810px;width:468px;height:25px;background:#e3e3e3;"></div>
<div class="t" style="top:538.66px;font-size:16.4px;line-height:16.4px;color:#a82224;left:11.5px;-webkit-text-stroke:0.2px #eeeeee;">Status</div>
<div class="t" style="top:568.09px;font-size:12.6px;line-height:12.6px;color:#1a1a1a;left:11.3px;">Status</div>
<div class="t" style="top:568.09px;font-size:12.6px;line-height:12.6px;color:#f07b16;font-weight:700;left:125px;">Retired</div>
<div class="t" style="top:592.94px;font-size:12.6px;line-height:12.6px;color:#1a1a1a;left:11.3px;">Retirement Year</div>
<div class="t" style="top:592.94px;font-size:12.6px;line-height:12.6px;color:#1a1a1a;left:125px;">2042</div>
<div class="t" style="top:617.79px;font-size:12.6px;line-height:12.6px;color:#a11717;letter-spacing:0.08px;left:11.3px;">Hall of Fame Metrics (Major League Baseball)</div>
<div class="t" style="top:642.64px;font-size:12.6px;line-height:12.6px;color:#1a1a1a;left:11.3px;">JAWS</div>
<div class="t" style="top:642.64px;font-size:12.6px;line-height:12.6px;color:#1a1a1a;left:125px;">80.7 (average HOF 1B ~51)</div>
<div class="t" style="top:642.30px;font-size:13px;line-height:13px;color:#2a68a8;font-weight:700;left:453.2px;">?</div>
<div class="t" style="top:667.49px;font-size:12.6px;line-height:12.6px;color:#1a1a1a;left:11.3px;">Black Ink</div>
<div class="t" style="top:667.49px;font-size:12.6px;line-height:12.6px;color:#1a1a1a;left:125px;">29 (average HOF ~ 27)</div>
<div class="t" style="top:667.15px;font-size:13px;line-height:13px;color:#2a68a8;font-weight:700;left:453.2px;">?</div>
<div class="t" style="top:692.34px;font-size:12.6px;line-height:12.6px;color:#1a1a1a;left:11.3px;">Gray Ink</div>
<div class="t" style="top:692.34px;font-size:12.6px;line-height:12.6px;color:#1a1a1a;left:125px;">226 (average HOF ~ 137)</div>
<div class="t" style="top:692.00px;font-size:13px;line-height:13px;color:#2a68a8;font-weight:700;left:453.2px;">?</div>
<div class="t" style="top:717.19px;font-size:12.6px;line-height:12.6px;color:#1a1a1a;left:11.3px;">HOF Standards</div>
<div class="t" style="top:717.19px;font-size:12.6px;line-height:12.6px;color:#1a1a1a;left:125px;">57 (average HOF ~ 49)</div>
<div class="t" style="top:716.85px;font-size:13px;line-height:13px;color:#2a68a8;font-weight:700;left:453.2px;">?</div>
<div class="t" style="top:742.04px;font-size:12.6px;line-height:12.6px;color:#1a1a1a;left:11.3px;">HOF Monitor</div>
<div class="t" style="top:742.04px;font-size:12.6px;line-height:12.6px;color:#1a1a1a;left:125px;">230 (average HOF ~ 158)</div>
<div class="t" style="top:741.70px;font-size:13px;line-height:13px;color:#2a68a8;font-weight:700;left:453.2px;">?</div>
<div style="left:475px;top:165px;width:65.5px;height:20px;background:#eeeeee;border-radius:3px;"></div>
<div style="left:516px;top:165px;width:24.5px;height:20px;background:#d0d4d7;border-radius:0 3px 3px 0;"></div>
<div class="t" style="top:168.79px;font-size:12.6px;line-height:12.6px;color:#1a1a1a;left:482.5px;">View</div>
<svg style="position:absolute;left:522.25px;top:169px" width="12" height="12" viewBox="0 0 12 12"><path d="M1.5,4 L6,8.5 L10.5,4" stroke="#555" stroke-width="1.1" fill="none"/></svg>
<div style="left:551px;top:165px;width:199.5px;height:20px;background:#eeeeee;border-radius:3px;"></div>
<div style="left:726px;top:165px;width:24.5px;height:20px;background:#d0d4d7;border-radius:0 3px 3px 0;"></div>
<div class="t" style="top:168.79px;font-size:12.6px;line-height:12.6px;color:#1a1a1a;letter-spacing:-0.19px;left:558.5px;">League Scope  (Current: ML)</div>
<svg style="position:absolute;left:732.25px;top:169px" width="12" height="12" viewBox="0 0 12 12"><path d="M1.5,4 L6,8.5 L10.5,4" stroke="#555" stroke-width="1.1" fill="none"/></svg>
<div style="left:761px;top:165px;width:215.5px;height:20px;background:#eeeeee;border-radius:3px;"></div>
<div style="left:952px;top:165px;width:24.5px;height:20px;background:#d0d4d7;border-radius:0 3px 3px 0;"></div>
<div class="t" style="top:168.79px;font-size:12.6px;line-height:12.6px;color:#1a1a1a;letter-spacing:-0.17px;left:768.5px;">Split  (Current: Regular Season)</div>
<svg style="position:absolute;left:958.25px;top:169px" width="12" height="12" viewBox="0 0 12 12"><path d="M1.5,4 L6,8.5 L10.5,4" stroke="#555" stroke-width="1.1" fill="none"/></svg>
<div style="left:474px;top:191px;width:1063px;height:24px;background:#2f3e46;"></div>
<div class="t" style="top:198.56px;font-size:12.4px;line-height:12.4px;color:#d3d8da;letter-spacing:-0.15px;left:224px;width:600px;text-align:center;">Stat</div>
<div class="t" style="top:198.56px;font-size:12.4px;line-height:12.4px;color:#d3d8da;letter-spacing:-0.15px;left:289px;width:600px;text-align:center;">Age</div>
<div class="t" style="top:198.56px;font-size:12.4px;line-height:12.4px;color:#d3d8da;letter-spacing:-0.15px;left:328.6px;width:600px;text-align:center;">Team</div>
<div class="t" style="top:198.56px;font-size:12.4px;line-height:12.4px;color:#d3d8da;letter-spacing:-0.15px;left:379px;width:600px;text-align:center;">League</div>
<div class="t" style="top:198.56px;font-size:12.4px;line-height:12.4px;color:#d3d8da;letter-spacing:-0.15px;left:143.14999999999998px;width:600px;text-align:right;">G</div>
<div class="t" style="top:198.56px;font-size:12.4px;line-height:12.4px;color:#d3d8da;letter-spacing:-0.15px;left:185.14999999999998px;width:600px;text-align:right;">GS</div>
<div class="t" style="top:198.56px;font-size:12.4px;line-height:12.4px;color:#d3d8da;letter-spacing:-0.15px;left:228.14999999999998px;width:600px;text-align:right;">PA</div>
<div class="t" style="top:198.56px;font-size:12.4px;line-height:12.4px;color:#d3d8da;letter-spacing:-0.15px;left:270.15px;width:600px;text-align:right;">AB</div>
<div class="t" style="top:198.56px;font-size:12.4px;line-height:12.4px;color:#d3d8da;letter-spacing:-0.15px;left:313.15px;width:600px;text-align:right;">R</div>
<div class="t" style="top:198.56px;font-size:12.4px;line-height:12.4px;color:#d3d8da;letter-spacing:-0.15px;left:355.15px;width:600px;text-align:right;">H</div>
<div class="t" style="top:198.56px;font-size:12.4px;line-height:12.4px;color:#d3d8da;letter-spacing:-0.15px;left:388.15px;width:600px;text-align:right;">2B</div>
<div class="t" style="top:198.56px;font-size:12.4px;line-height:12.4px;color:#d3d8da;letter-spacing:-0.15px;left:421.15px;width:600px;text-align:right;">3B</div>
<div class="t" style="top:198.56px;font-size:12.4px;line-height:12.4px;color:#d3d8da;letter-spacing:-0.15px;left:454.1500000000001px;width:600px;text-align:right;">HR</div>
<div class="t" style="top:198.56px;font-size:12.4px;line-height:12.4px;color:#d3d8da;letter-spacing:-0.15px;left:496.1500000000001px;width:600px;text-align:right;">RBI</div>
<div class="t" style="top:198.56px;font-size:12.4px;line-height:12.4px;color:#d3d8da;letter-spacing:-0.15px;left:539.1500000000001px;width:600px;text-align:right;">BB</div>
<div class="t" style="top:198.56px;font-size:12.4px;line-height:12.4px;color:#d3d8da;letter-spacing:-0.15px;left:581.1500000000001px;width:600px;text-align:right;">SO</div>
<div class="t" style="top:198.56px;font-size:12.4px;line-height:12.4px;color:#d3d8da;letter-spacing:-0.15px;left:614.1500000000001px;width:600px;text-align:right;">SB</div>
<div class="t" style="top:198.56px;font-size:12.4px;line-height:12.4px;color:#d3d8da;letter-spacing:-0.15px;left:647.1500000000001px;width:600px;text-align:right;">CS</div>
<div class="t" style="top:198.56px;font-size:12.4px;line-height:12.4px;color:#d3d8da;letter-spacing:-0.15px;left:694.1500000000001px;width:600px;text-align:right;">AVG</div>
<div class="t" style="top:198.56px;font-size:12.4px;line-height:12.4px;color:#d3d8da;letter-spacing:-0.15px;left:741.1500000000001px;width:600px;text-align:right;">OBP</div>
<div class="t" style="top:198.56px;font-size:12.4px;line-height:12.4px;color:#d3d8da;letter-spacing:-0.15px;left:787.1500000000001px;width:600px;text-align:right;">SLG</div>
<div class="t" style="top:198.56px;font-size:12.4px;line-height:12.4px;color:#d3d8da;letter-spacing:-0.15px;left:836.1500000000001px;width:600px;text-align:right;">OPS</div>
<div class="t" style="top:198.56px;font-size:12.4px;line-height:12.4px;color:#d3d8da;letter-spacing:-0.15px;left:887.1500000000001px;width:600px;text-align:right;">OPS+</div>
<div class="t" style="top:198.56px;font-size:12.4px;line-height:12.4px;color:#d3d8da;letter-spacing:-0.15px;left:935.1500000000001px;width:600px;text-align:right;">WAR</div>
<div style="left:474px;top:215px;width:1063px;height:24px;background:#e3e3e3;"></div>
<div style="left:474px;top:239px;width:1063px;height:24px;background:#eeeeee;"></div>
<div style="left:474px;top:263px;width:1063px;height:24px;background:#e3e3e3;"></div>
<div style="left:474px;top:287px;width:1063px;height:24px;background:#eeeeee;"></div>
<div style="left:474px;top:311px;width:1063px;height:24px;background:#e3e3e3;"></div>
<div style="left:474px;top:335px;width:1063px;height:24px;background:#eeeeee;"></div>
<div style="left:474px;top:359px;width:1063px;height:24px;background:#e3e3e3;"></div>
<div style="left:474px;top:383px;width:1063px;height:24px;background:#eeeeee;"></div>
<div style="left:474px;top:407px;width:1063px;height:24px;background:#e3e3e3;"></div>
<div style="left:474px;top:431px;width:1063px;height:24px;background:#eeeeee;"></div>
<div style="left:474px;top:455px;width:1063px;height:24px;background:#e3e3e3;"></div>
<div style="left:474px;top:479px;width:1063px;height:24px;background:#eeeeee;"></div>
<div style="left:474px;top:503px;width:1063px;height:24px;background:#e3e3e3;"></div>
<div style="left:474px;top:527px;width:1063px;height:24px;background:#eeeeee;"></div>
<div style="left:474px;top:551px;width:1063px;height:24px;background:#e3e3e3;"></div>
<div style="left:474px;top:575px;width:1063px;height:24px;background:#eeeeee;"></div>
<div style="left:474px;top:599px;width:1063px;height:24px;background:#e3e3e3;"></div>
<div style="left:474px;top:623px;width:1063px;height:24px;background:#eeeeee;"></div>
<div style="left:474px;top:647px;width:1063px;height:24px;background:#e3e3e3;"></div>
<div style="left:474px;top:671px;width:1063px;height:24px;background:#eeeeee;"></div>
<div style="left:474px;top:695px;width:1063px;height:24px;background:#e3e3e3;"></div>
<div style="left:474px;top:719px;width:1063px;height:24px;background:#eeeeee;"></div>
<div style="left:474px;top:743px;width:1063px;height:24px;background:#e3e3e3;"></div>
<div style="left:474px;top:767px;width:1063px;height:24px;background:#eeeeee;"></div>
<div style="left:474px;top:791px;width:1063px;height:24px;background:#e3e3e3;"></div>
<div style="left:474px;top:815px;width:1063px;height:24px;background:#eeeeee;"></div>
<div style="left:474px;top:839px;width:1063px;height:11px;background:#e3e3e3;"></div>
<div class="t" style="top:221.39px;font-size:12.6px;line-height:12.6px;color:#1d1d1d;left:224px;width:600px;text-align:center;">2020</div>
<div class="t" style="top:221.39px;font-size:12.6px;line-height:12.6px;color:#1d1d1d;left:289px;width:600px;text-align:center;">20</div>
<div class="t" style="top:221.39px;font-size:12.6px;line-height:12.6px;color:#1d1d1d;left:328.6px;width:600px;text-align:center;">SD</div>
<div class="t" style="top:221.39px;font-size:12.6px;line-height:12.6px;color:#1d1d1d;left:379px;width:600px;text-align:center;">MLB</div>
<div class="t" style="top:221.39px;font-size:12.6px;line-height:12.6px;color:#1d1d1d;left:143px;width:600px;text-align:right;">162</div>
<div class="t" style="top:221.39px;font-size:12.6px;line-height:12.6px;color:#1d1d1d;left:185px;width:600px;text-align:right;">162</div>
<div class="t" style="top:221.39px;font-size:12.6px;line-height:12.6px;color:#1d1d1d;left:228px;width:600px;text-align:right;">722</div>
<div class="t" style="top:221.39px;font-size:12.6px;line-height:12.6px;color:#1d1d1d;left:270px;width:600px;text-align:right;">626</div>
<div class="t" style="top:221.39px;font-size:12.6px;line-height:12.6px;color:#1d1d1d;left:313px;width:600px;text-align:right;">86</div>
<div class="t" style="top:221.39px;font-size:12.6px;line-height:12.6px;color:#1d1d1d;left:355px;width:600px;text-align:right;">173</div>
<div class="t" style="top:221.39px;font-size:12.6px;line-height:12.6px;color:#1d1d1d;left:388px;width:600px;text-align:right;">45</div>
<div class="t" style="top:221.39px;font-size:12.6px;line-height:12.6px;color:#1d1d1d;left:421px;width:600px;text-align:right;">2</div>
<div class="t" style="top:221.39px;font-size:12.6px;line-height:12.6px;color:#1d1d1d;left:454px;width:600px;text-align:right;">30</div>
<div class="t" style="top:221.39px;font-size:12.6px;line-height:12.6px;color:#1d1d1d;left:496px;width:600px;text-align:right;">110</div>
<div class="t" style="top:221.39px;font-size:12.6px;line-height:12.6px;color:#1d1d1d;left:539px;width:600px;text-align:right;">82</div>
<div class="t" style="top:221.39px;font-size:12.6px;line-height:12.6px;color:#1d1d1d;left:581px;width:600px;text-align:right;">119</div>
<div class="t" style="top:221.39px;font-size:12.6px;line-height:12.6px;color:#1d1d1d;left:614px;width:600px;text-align:right;">0</div>
<div class="t" style="top:221.39px;font-size:12.6px;line-height:12.6px;color:#1d1d1d;left:647px;width:600px;text-align:right;">0</div>
<div class="t" style="top:221.39px;font-size:12.6px;line-height:12.6px;color:#1d1d1d;left:694px;width:600px;text-align:right;">.276</div>
<div class="t" style="top:221.39px;font-size:12.6px;line-height:12.6px;color:#1d1d1d;left:741px;width:600px;text-align:right;">.361</div>
<div class="t" style="top:221.39px;font-size:12.6px;line-height:12.6px;color:#1d1d1d;left:787px;width:600px;text-align:right;">.498</div>
<div class="t" style="top:221.39px;font-size:12.6px;line-height:12.6px;color:#1d1d1d;left:836px;width:600px;text-align:right;">.860</div>
<div class="t" style="top:221.39px;font-size:12.6px;line-height:12.6px;color:#1d1d1d;left:887px;width:600px;text-align:right;">141</div>
<div class="t" style="top:221.39px;font-size:12.6px;line-height:12.6px;color:#1d1d1d;left:935px;width:600px;text-align:right;">5.2</div>
<div class="t" style="top:245.39px;font-size:12.6px;line-height:12.6px;color:#1d1d1d;left:224px;width:600px;text-align:center;">2021</div>
<div class="t" style="top:245.39px;font-size:12.6px;line-height:12.6px;color:#1d1d1d;left:289px;width:600px;text-align:center;">21</div>
<div class="t" style="top:245.39px;font-size:12.6px;line-height:12.6px;color:#1d1d1d;left:328.6px;width:600px;text-align:center;">SD</div>
<div class="t" style="top:245.39px;font-size:12.6px;line-height:12.6px;color:#1d1d1d;left:379px;width:600px;text-align:center;">MLB</div>
<div class="t" style="top:245.39px;font-size:12.6px;line-height:12.6px;color:#1d1d1d;left:143px;width:600px;text-align:right;">162</div>
<div class="t" style="top:245.39px;font-size:12.6px;line-height:12.6px;color:#1d1d1d;left:185px;width:600px;text-align:right;">162</div>
<div class="t" style="top:245.39px;font-size:12.6px;line-height:12.6px;color:#1d1d1d;left:228px;width:600px;text-align:right;">714</div>
<div class="t" style="top:245.39px;font-size:12.6px;line-height:12.6px;color:#1d1d1d;left:270px;width:600px;text-align:right;">616</div>
<div class="t" style="top:245.39px;font-size:12.6px;line-height:12.6px;color:#1d1d1d;left:313px;width:600px;text-align:right;">95</div>
<div class="t" style="top:245.39px;font-size:12.6px;line-height:12.6px;color:#1d1d1d;left:355px;width:600px;text-align:right;">164</div>
<div class="t" style="top:245.39px;font-size:12.6px;line-height:12.6px;color:#1d1d1d;left:388px;width:600px;text-align:right;">43</div>
<div class="t" style="top:245.39px;font-size:12.6px;line-height:12.6px;color:#1d1d1d;left:421px;width:600px;text-align:right;">2</div>
<div class="t" style="top:245.39px;font-size:12.6px;line-height:12.6px;color:#1d1d1d;left:454px;width:600px;text-align:right;">32</div>
<div class="t" style="top:245.39px;font-size:12.6px;line-height:12.6px;color:#1d1d1d;left:496px;width:600px;text-align:right;">87</div>
<div class="t" style="top:245.39px;font-size:12.6px;line-height:12.6px;color:#1d1d1d;left:539px;width:600px;text-align:right;">90</div>
<div class="t" style="top:245.39px;font-size:12.6px;line-height:12.6px;color:#1d1d1d;left:581px;width:600px;text-align:right;">107</div>
<div class="t" style="top:245.39px;font-size:12.6px;line-height:12.6px;color:#1d1d1d;left:614px;width:600px;text-align:right;">1</div>
<div class="t" style="top:245.39px;font-size:12.6px;line-height:12.6px;color:#1d1d1d;left:647px;width:600px;text-align:right;">0</div>
<div class="t" style="top:245.39px;font-size:12.6px;line-height:12.6px;color:#1d1d1d;left:694px;width:600px;text-align:right;">.266</div>
<div class="t" style="top:245.39px;font-size:12.6px;line-height:12.6px;color:#1d1d1d;left:741px;width:600px;text-align:right;">.364</div>
<div class="t" style="top:245.39px;font-size:12.6px;line-height:12.6px;color:#1d1d1d;left:787px;width:600px;text-align:right;">.498</div>
<div class="t" style="top:245.39px;font-size:12.6px;line-height:12.6px;color:#1d1d1d;left:836px;width:600px;text-align:right;">.863</div>
<div class="t" style="top:245.39px;font-size:12.6px;line-height:12.6px;color:#1d1d1d;left:887px;width:600px;text-align:right;">146</div>
<div class="t" style="top:245.39px;font-size:12.6px;line-height:12.6px;color:#1d1d1d;left:935px;width:600px;text-align:right;">5.3</div>
<div class="t" style="top:269.39px;font-size:12.6px;line-height:12.6px;color:#1d1d1d;left:224px;width:600px;text-align:center;">2022</div>
<div class="t" style="top:269.39px;font-size:12.6px;line-height:12.6px;color:#1d1d1d;left:289px;width:600px;text-align:center;">22</div>
<div class="t" style="top:269.39px;font-size:12.6px;line-height:12.6px;color:#1d1d1d;left:328.6px;width:600px;text-align:center;">SD</div>
<div class="t" style="top:269.39px;font-size:12.6px;line-height:12.6px;color:#1d1d1d;left:379px;width:600px;text-align:center;">MLB</div>
<div class="t" style="top:269.39px;font-size:12.6px;line-height:12.6px;color:#1d1d1d;left:143px;width:600px;text-align:right;">162</div>
<div class="t" style="top:269.39px;font-size:12.6px;line-height:12.6px;color:#1d1d1d;left:185px;width:600px;text-align:right;">162</div>
<div class="t" style="top:269.39px;font-size:12.6px;line-height:12.6px;color:#1d1d1d;left:228px;width:600px;text-align:right;">732</div>
<div class="t" style="top:269.39px;font-size:12.6px;line-height:12.6px;color:#1d1d1d;left:270px;width:600px;text-align:right;">645</div>
<div class="t" style="top:269.39px;font-size:12.6px;line-height:12.6px;color:#1d1d1d;left:313px;width:600px;text-align:right;">108</div>
<div class="t" style="top:269.39px;font-size:12.6px;line-height:12.6px;color:#1d1d1d;left:355px;width:600px;text-align:right;">190</div>
<div class="t" style="top:269.39px;font-size:12.6px;line-height:12.6px;color:#1d1d1d;left:388px;width:600px;text-align:right;">35</div>
<div class="t" style="top:269.39px;font-size:12.6px;line-height:12.6px;color:#1d1d1d;left:421px;width:600px;text-align:right;">4</div>
<div class="t" style="top:269.39px;font-size:12.6px;line-height:12.6px;color:#1d1d1d;left:454px;width:600px;text-align:right;">36</div>
<div class="t" style="top:269.39px;font-size:12.6px;line-height:12.6px;color:#1d1d1d;left:496px;width:600px;text-align:right;">109</div>
<div class="t" style="top:269.39px;font-size:12.6px;line-height:12.6px;color:#1d1d1d;left:539px;width:600px;text-align:right;">66</div>
<div class="t" style="top:269.39px;font-size:12.6px;line-height:12.6px;color:#1d1d1d;left:581px;width:600px;text-align:right;">81</div>
<div class="t" style="top:269.39px;font-size:12.6px;line-height:12.6px;color:#1d1d1d;left:614px;width:600px;text-align:right;">0</div>
<div class="t" style="top:269.39px;font-size:12.6px;line-height:12.6px;color:#1d1d1d;left:647px;width:600px;text-align:right;">0</div>
<div class="t" style="top:269.39px;font-size:12.6px;line-height:12.6px;color:#1d1d1d;left:694px;width:600px;text-align:right;">.295</div>
<div class="t" style="top:269.39px;font-size:12.6px;line-height:12.6px;color:#1d1d1d;left:741px;width:600px;text-align:right;">.370</div>
<div class="t" style="top:269.39px;font-size:12.6px;line-height:12.6px;color:#1d1d1d;left:787px;width:600px;text-align:right;">.529</div>
<div class="t" style="top:269.39px;font-size:12.6px;line-height:12.6px;color:#1d1d1d;left:836px;width:600px;text-align:right;">.899</div>
<div class="t" style="top:269.39px;font-size:12.6px;line-height:12.6px;color:#1d1d1d;left:887px;width:600px;text-align:right;">153</div>
<div class="t" style="top:269.39px;font-size:12.6px;line-height:12.6px;color:#1d1d1d;left:935px;width:600px;text-align:right;">6.9</div>
<div class="t" style="top:293.39px;font-size:12.6px;line-height:12.6px;color:#1d1d1d;left:224px;width:600px;text-align:center;">2023</div>
<div class="t" style="top:293.39px;font-size:12.6px;line-height:12.6px;color:#1d1d1d;left:289px;width:600px;text-align:center;">23</div>
<div class="t" style="top:293.39px;font-size:12.6px;line-height:12.6px;color:#1d1d1d;left:328.6px;width:600px;text-align:center;">SD</div>
<div class="t" style="top:293.39px;font-size:12.6px;line-height:12.6px;color:#1d1d1d;left:379px;width:600px;text-align:center;">MLB</div>
<div class="t" style="top:293.39px;font-size:12.6px;line-height:12.6px;color:#1d1d1d;left:143px;width:600px;text-align:right;">162</div>
<div class="t" style="top:293.39px;font-size:12.6px;line-height:12.6px;color:#1d1d1d;left:185px;width:600px;text-align:right;">162</div>
<div class="t" style="top:293.39px;font-size:12.6px;line-height:12.6px;color:#a00c0c;font-weight:700;left:228px;width:600px;text-align:right;">724</div>
<div class="t" style="top:293.39px;font-size:12.6px;line-height:12.6px;color:#1d1d1d;left:270px;width:600px;text-align:right;">632</div>
<div class="t" style="top:293.39px;font-size:12.6px;line-height:12.6px;color:#1d1d1d;left:313px;width:600px;text-align:right;">103</div>
<div class="t" style="top:293.39px;font-size:12.6px;line-height:12.6px;color:#1d1d1d;left:355px;width:600px;text-align:right;">166</div>
<div class="t" style="top:293.39px;font-size:12.6px;line-height:12.6px;color:#1d1d1d;left:388px;width:600px;text-align:right;">36</div>
<div class="t" style="top:293.39px;font-size:12.6px;line-height:12.6px;color:#1d1d1d;left:421px;width:600px;text-align:right;">1</div>
<div class="t" style="top:293.39px;font-size:12.6px;line-height:12.6px;color:#1d1d1d;left:454px;width:600px;text-align:right;">36</div>
<div class="t" style="top:293.39px;font-size:12.6px;line-height:12.6px;color:#1d1d1d;left:496px;width:600px;text-align:right;">97</div>
<div class="t" style="top:293.39px;font-size:12.6px;line-height:12.6px;color:#1d1d1d;left:539px;width:600px;text-align:right;">76</div>
<div class="t" style="top:293.39px;font-size:12.6px;line-height:12.6px;color:#1d1d1d;left:581px;width:600px;text-align:right;">61</div>
<div class="t" style="top:293.39px;font-size:12.6px;line-height:12.6px;color:#1d1d1d;left:614px;width:600px;text-align:right;">0</div>
<div class="t" style="top:293.39px;font-size:12.6px;line-height:12.6px;color:#1d1d1d;left:647px;width:600px;text-align:right;">0</div>
<div class="t" style="top:293.39px;font-size:12.6px;line-height:12.6px;color:#1d1d1d;left:694px;width:600px;text-align:right;">.263</div>
<div class="t" style="top:293.39px;font-size:12.6px;line-height:12.6px;color:#1d1d1d;left:741px;width:600px;text-align:right;">.348</div>
<div class="t" style="top:293.39px;font-size:12.6px;line-height:12.6px;color:#1d1d1d;left:787px;width:600px;text-align:right;">.494</div>
<div class="t" style="top:293.39px;font-size:12.6px;line-height:12.6px;color:#1d1d1d;left:836px;width:600px;text-align:right;">.841</div>
<div class="t" style="top:293.39px;font-size:12.6px;line-height:12.6px;color:#1d1d1d;left:887px;width:600px;text-align:right;">139</div>
<div class="t" style="top:293.39px;font-size:12.6px;line-height:12.6px;color:#1d1d1d;left:935px;width:600px;text-align:right;">5.5</div>
<div class="t" style="top:317.39px;font-size:12.6px;line-height:12.6px;color:#1d1d1d;left:224px;width:600px;text-align:center;">2024</div>
<div class="t" style="top:317.39px;font-size:12.6px;line-height:12.6px;color:#1d1d1d;left:289px;width:600px;text-align:center;">24</div>
<div class="t" style="top:317.39px;font-size:12.6px;line-height:12.6px;color:#1d1d1d;left:328.6px;width:600px;text-align:center;">SD</div>
<div class="t" style="top:317.39px;font-size:12.6px;line-height:12.6px;color:#1d1d1d;left:379px;width:600px;text-align:center;">MLB</div>
<div class="t" style="top:317.39px;font-size:12.6px;line-height:12.6px;color:#1d1d1d;left:143px;width:600px;text-align:right;">162</div>
<div class="t" style="top:317.39px;font-size:12.6px;line-height:12.6px;color:#1d1d1d;left:185px;width:600px;text-align:right;">162</div>
<div class="t" style="top:317.39px;font-size:12.6px;line-height:12.6px;color:#1d1d1d;left:228px;width:600px;text-align:right;">714</div>
<div class="t" style="top:317.39px;font-size:12.6px;line-height:12.6px;color:#1d1d1d;left:270px;width:600px;text-align:right;">638</div>
<div class="t" style="top:317.39px;font-size:12.6px;line-height:12.6px;color:#1d1d1d;left:313px;width:600px;text-align:right;">95</div>
<div class="t" style="top:317.39px;font-size:12.6px;line-height:12.6px;color:#1d1d1d;left:355px;width:600px;text-align:right;">198</div>
<div class="t" style="top:317.39px;font-size:12.6px;line-height:12.6px;color:#1d1d1d;left:388px;width:600px;text-align:right;">50</div>
<div class="t" style="top:317.39px;font-size:12.6px;line-height:12.6px;color:#1d1d1d;left:421px;width:600px;text-align:right;">2</div>
<div class="t" style="top:317.39px;font-size:12.6px;line-height:12.6px;color:#1d1d1d;left:454px;width:600px;text-align:right;">39</div>
<div class="t" style="top:317.39px;font-size:12.6px;line-height:12.6px;color:#1d1d1d;left:496px;width:600px;text-align:right;">122</div>
<div class="t" style="top:317.39px;font-size:12.6px;line-height:12.6px;color:#1d1d1d;left:539px;width:600px;text-align:right;">69</div>
<div class="t" style="top:317.39px;font-size:12.6px;line-height:12.6px;color:#1d1d1d;left:581px;width:600px;text-align:right;">66</div>
<div class="t" style="top:317.39px;font-size:12.6px;line-height:12.6px;color:#1d1d1d;left:614px;width:600px;text-align:right;">1</div>
<div class="t" style="top:317.39px;font-size:12.6px;line-height:12.6px;color:#1d1d1d;left:647px;width:600px;text-align:right;">0</div>
<div class="t" style="top:317.39px;font-size:12.6px;line-height:12.6px;color:#1d1d1d;left:694px;width:600px;text-align:right;">.310</div>
<div class="t" style="top:317.39px;font-size:12.6px;line-height:12.6px;color:#1d1d1d;left:741px;width:600px;text-align:right;">.375</div>
<div class="t" style="top:317.39px;font-size:12.6px;line-height:12.6px;color:#1d1d1d;left:787px;width:600px;text-align:right;">.578</div>
<div class="t" style="top:317.39px;font-size:12.6px;line-height:12.6px;color:#1d1d1d;left:836px;width:600px;text-align:right;">.954</div>
<div class="t" style="top:317.39px;font-size:12.6px;line-height:12.6px;color:#1d1d1d;left:887px;width:600px;text-align:right;">172</div>
<div class="t" style="top:317.39px;font-size:12.6px;line-height:12.6px;color:#1d1d1d;left:935px;width:600px;text-align:right;">7.7</div>
<div class="t" style="top:341.39px;font-size:12.6px;line-height:12.6px;color:#1d1d1d;left:224px;width:600px;text-align:center;">2025</div>
<div class="t" style="top:341.39px;font-size:12.6px;line-height:12.6px;color:#1d1d1d;left:289px;width:600px;text-align:center;">25</div>
<div class="t" style="top:341.39px;font-size:12.6px;line-height:12.6px;color:#1d1d1d;left:328.6px;width:600px;text-align:center;">SD</div>
<div class="t" style="top:341.39px;font-size:12.6px;line-height:12.6px;color:#1d1d1d;left:379px;width:600px;text-align:center;">MLB</div>
<div class="t" style="top:341.39px;font-size:12.6px;line-height:12.6px;color:#1d1d1d;left:143px;width:600px;text-align:right;">162</div>
<div class="t" style="top:341.39px;font-size:12.6px;line-height:12.6px;color:#1d1d1d;left:185px;width:600px;text-align:right;">162</div>
<div class="t" style="top:341.39px;font-size:12.6px;line-height:12.6px;color:#1d1d1d;left:228px;width:600px;text-align:right;">711</div>
<div class="t" style="top:341.39px;font-size:12.6px;line-height:12.6px;color:#1d1d1d;left:270px;width:600px;text-align:right;">619</div>
<div class="t" style="top:341.39px;font-size:12.6px;line-height:12.6px;color:#1d1d1d;left:313px;width:600px;text-align:right;">100</div>
<div class="t" style="top:341.39px;font-size:12.6px;line-height:12.6px;color:#1d1d1d;left:355px;width:600px;text-align:right;">164</div>
<div class="t" style="top:341.39px;font-size:12.6px;line-height:12.6px;color:#1d1d1d;left:388px;width:600px;text-align:right;">40</div>
<div class="t" style="top:341.39px;font-size:12.6px;line-height:12.6px;color:#1d1d1d;left:421px;width:600px;text-align:right;">3</div>
<div class="t" style="top:341.39px;font-size:12.6px;line-height:12.6px;color:#1d1d1d;left:454px;width:600px;text-align:right;">34</div>
<div class="t" style="top:341.39px;font-size:12.6px;line-height:12.6px;color:#1d1d1d;left:496px;width:600px;text-align:right;">115</div>
<div class="t" style="top:341.39px;font-size:12.6px;line-height:12.6px;color:#1d1d1d;left:539px;width:600px;text-align:right;">76</div>
<div class="t" style="top:341.39px;font-size:12.6px;line-height:12.6px;color:#1d1d1d;left:581px;width:600px;text-align:right;">90</div>
<div class="t" style="top:341.39px;font-size:12.6px;line-height:12.6px;color:#1d1d1d;left:614px;width:600px;text-align:right;">2</div>
<div class="t" style="top:341.39px;font-size:12.6px;line-height:12.6px;color:#1d1d1d;left:647px;width:600px;text-align:right;">0</div>
<div class="t" style="top:341.39px;font-size:12.6px;line-height:12.6px;color:#1d1d1d;left:694px;width:600px;text-align:right;">.265</div>
<div class="t" style="top:341.39px;font-size:12.6px;line-height:12.6px;color:#1d1d1d;left:741px;width:600px;text-align:right;">.353</div>
<div class="t" style="top:341.39px;font-size:12.6px;line-height:12.6px;color:#1d1d1d;left:787px;width:600px;text-align:right;">.504</div>
<div class="t" style="top:341.39px;font-size:12.6px;line-height:12.6px;color:#1d1d1d;left:836px;width:600px;text-align:right;">.857</div>
<div class="t" style="top:341.39px;font-size:12.6px;line-height:12.6px;color:#1d1d1d;left:887px;width:600px;text-align:right;">140</div>
<div class="t" style="top:341.39px;font-size:12.6px;line-height:12.6px;color:#1d1d1d;left:935px;width:600px;text-align:right;">5.5</div>
<div class="t" style="top:365.39px;font-size:12.6px;line-height:12.6px;color:#1d1d1d;left:224px;width:600px;text-align:center;">2026</div>
<div class="t" style="top:365.39px;font-size:12.6px;line-height:12.6px;color:#1d1d1d;left:289px;width:600px;text-align:center;">26</div>
<div class="t" style="top:365.39px;font-size:12.6px;line-height:12.6px;color:#1d1d1d;left:328.6px;width:600px;text-align:center;">STL</div>
<div class="t" style="top:365.39px;font-size:12.6px;line-height:12.6px;color:#1d1d1d;left:379px;width:600px;text-align:center;">MLB</div>
<div class="t" style="top:365.39px;font-size:12.6px;line-height:12.6px;color:#1d1d1d;left:143px;width:600px;text-align:right;">162</div>
<div class="t" style="top:365.39px;font-size:12.6px;line-height:12.6px;color:#1d1d1d;left:185px;width:600px;text-align:right;">162</div>
<div class="t" style="top:365.39px;font-size:12.6px;line-height:12.6px;color:#1d1d1d;left:228px;width:600px;text-align:right;">723</div>
<div class="t" style="top:365.39px;font-size:12.6px;line-height:12.6px;color:#1d1d1d;left:270px;width:600px;text-align:right;">635</div>
<div class="t" style="top:365.39px;font-size:12.6px;line-height:12.6px;color:#1d1d1d;left:313px;width:600px;text-align:right;">96</div>
<div class="t" style="top:365.39px;font-size:12.6px;line-height:12.6px;color:#1d1d1d;left:355px;width:600px;text-align:right;">190</div>
<div class="t" style="top:365.39px;font-size:12.6px;line-height:12.6px;color:#1d1d1d;left:388px;width:600px;text-align:right;">39</div>
<div class="t" style="top:365.39px;font-size:12.6px;line-height:12.6px;color:#1d1d1d;left:421px;width:600px;text-align:right;">1</div>
<div class="t" style="top:365.39px;font-size:12.6px;line-height:12.6px;color:#1d1d1d;left:454px;width:600px;text-align:right;">36</div>
<div class="t" style="top:365.39px;font-size:12.6px;line-height:12.6px;color:#1d1d1d;left:496px;width:600px;text-align:right;">98</div>
<div class="t" style="top:365.39px;font-size:12.6px;line-height:12.6px;color:#1d1d1d;left:539px;width:600px;text-align:right;">70</div>
<div class="t" style="top:365.39px;font-size:12.6px;line-height:12.6px;color:#1d1d1d;left:581px;width:600px;text-align:right;">83</div>
<div class="t" style="top:365.39px;font-size:12.6px;line-height:12.6px;color:#1d1d1d;left:614px;width:600px;text-align:right;">0</div>
<div class="t" style="top:365.39px;font-size:12.6px;line-height:12.6px;color:#1d1d1d;left:647px;width:600px;text-align:right;">0</div>
<div class="t" style="top:365.39px;font-size:12.6px;line-height:12.6px;color:#1d1d1d;left:694px;width:600px;text-align:right;">.299</div>
<div class="t" style="top:365.39px;font-size:12.6px;line-height:12.6px;color:#1d1d1d;left:741px;width:600px;text-align:right;">.378</div>
<div class="t" style="top:365.39px;font-size:12.6px;line-height:12.6px;color:#1d1d1d;left:787px;width:600px;text-align:right;">.534</div>
<div class="t" style="top:365.39px;font-size:12.6px;line-height:12.6px;color:#1d1d1d;left:836px;width:600px;text-align:right;">.911</div>
<div class="t" style="top:365.39px;font-size:12.6px;line-height:12.6px;color:#1d1d1d;left:887px;width:600px;text-align:right;">152</div>
<div class="t" style="top:365.39px;font-size:12.6px;line-height:12.6px;color:#1d1d1d;left:935px;width:600px;text-align:right;">6.8</div>
<div class="t" style="top:389.39px;font-size:12.6px;line-height:12.6px;color:#1d1d1d;left:224px;width:600px;text-align:center;">2027</div>
<div class="t" style="top:389.39px;font-size:12.6px;line-height:12.6px;color:#1d1d1d;left:289px;width:600px;text-align:center;">27</div>
<div class="t" style="top:389.39px;font-size:12.6px;line-height:12.6px;color:#1d1d1d;left:328.6px;width:600px;text-align:center;">STL</div>
<div class="t" style="top:389.39px;font-size:12.6px;line-height:12.6px;color:#1d1d1d;left:379px;width:600px;text-align:center;">MLB</div>
<div class="t" style="top:389.39px;font-size:12.6px;line-height:12.6px;color:#1d1d1d;left:143px;width:600px;text-align:right;">160</div>
<div class="t" style="top:389.39px;font-size:12.6px;line-height:12.6px;color:#1d1d1d;left:185px;width:600px;text-align:right;">158</div>
<div class="t" style="top:389.39px;font-size:12.6px;line-height:12.6px;color:#1d1d1d;left:228px;width:600px;text-align:right;">709</div>
<div class="t" style="top:389.39px;font-size:12.6px;line-height:12.6px;color:#1d1d1d;left:270px;width:600px;text-align:right;">640</div>
<div class="t" style="top:389.39px;font-size:12.6px;line-height:12.6px;color:#1d1d1d;left:313px;width:600px;text-align:right;">82</div>
<div class="t" style="top:389.39px;font-size:12.6px;line-height:12.6px;color:#1d1d1d;left:355px;width:600px;text-align:right;">185</div>
<div class="t" style="top:389.39px;font-size:12.6px;line-height:12.6px;color:#1d1d1d;left:388px;width:600px;text-align:right;">37</div>
<div class="t" style="top:389.39px;font-size:12.6px;line-height:12.6px;color:#1d1d1d;left:421px;width:600px;text-align:right;">1</div>
<div class="t" style="top:389.39px;font-size:12.6px;line-height:12.6px;color:#1d1d1d;left:454px;width:600px;text-align:right;">29</div>
<div class="t" style="top:389.39px;font-size:12.6px;line-height:12.6px;color:#1d1d1d;left:496px;width:600px;text-align:right;">95</div>
<div class="t" style="top:389.39px;font-size:12.6px;line-height:12.6px;color:#1d1d1d;left:539px;width:600px;text-align:right;">58</div>
<div class="t" style="top:389.39px;font-size:12.6px;line-height:12.6px;color:#1d1d1d;left:581px;width:600px;text-align:right;">98</div>
<div class="t" style="top:389.39px;font-size:12.6px;line-height:12.6px;color:#1d1d1d;left:614px;width:600px;text-align:right;">1</div>
<div class="t" style="top:389.39px;font-size:12.6px;line-height:12.6px;color:#1d1d1d;left:647px;width:600px;text-align:right;">0</div>
<div class="t" style="top:389.39px;font-size:12.6px;line-height:12.6px;color:#1d1d1d;left:694px;width:600px;text-align:right;">.289</div>
<div class="t" style="top:389.39px;font-size:12.6px;line-height:12.6px;color:#1d1d1d;left:741px;width:600px;text-align:right;">.350</div>
<div class="t" style="top:389.39px;font-size:12.6px;line-height:12.6px;color:#1d1d1d;left:787px;width:600px;text-align:right;">.486</div>
<div class="t" style="top:389.39px;font-size:12.6px;line-height:12.6px;color:#1d1d1d;left:836px;width:600px;text-align:right;">.836</div>
<div class="t" style="top:389.39px;font-size:12.6px;line-height:12.6px;color:#1d1d1d;left:887px;width:600px;text-align:right;">133</div>
<div class="t" style="top:389.39px;font-size:12.6px;line-height:12.6px;color:#1d1d1d;left:935px;width:600px;text-align:right;">5.4</div>
<div class="t" style="top:413.39px;font-size:12.6px;line-height:12.6px;color:#1d1d1d;left:224px;width:600px;text-align:center;">2028</div>
<div class="t" style="top:413.39px;font-size:12.6px;line-height:12.6px;color:#1d1d1d;left:289px;width:600px;text-align:center;">28</div>
<div class="t" style="top:413.39px;font-size:12.6px;line-height:12.6px;color:#1d1d1d;left:328.6px;width:600px;text-align:center;">STL</div>
<div class="t" style="top:413.39px;font-size:12.6px;line-height:12.6px;color:#1d1d1d;left:379px;width:600px;text-align:center;">MLB</div>
<div class="t" style="top:413.39px;font-size:12.6px;line-height:12.6px;color:#1d1d1d;left:143px;width:600px;text-align:right;">162</div>
<div class="t" style="top:413.39px;font-size:12.6px;line-height:12.6px;color:#1d1d1d;left:185px;width:600px;text-align:right;">162</div>
<div class="t" style="top:413.39px;font-size:12.6px;line-height:12.6px;color:#1d1d1d;left:228px;width:600px;text-align:right;">709</div>
<div class="t" style="top:413.39px;font-size:12.6px;line-height:12.6px;color:#1d1d1d;left:270px;width:600px;text-align:right;">657</div>
<div class="t" style="top:413.39px;font-size:12.6px;line-height:12.6px;color:#1d1d1d;left:313px;width:600px;text-align:right;">93</div>
<div class="t" style="top:413.39px;font-size:12.6px;line-height:12.6px;color:#1d1d1d;left:355px;width:600px;text-align:right;">200</div>
<div class="t" style="top:413.39px;font-size:12.6px;line-height:12.6px;color:#a00c0c;font-weight:700;left:388px;width:600px;text-align:right;">52</div>
<div class="t" style="top:413.39px;font-size:12.6px;line-height:12.6px;color:#1d1d1d;left:421px;width:600px;text-align:right;">2</div>
<div class="t" style="top:413.39px;font-size:12.6px;line-height:12.6px;color:#1d1d1d;left:454px;width:600px;text-align:right;">32</div>
<div class="t" style="top:413.39px;font-size:12.6px;line-height:12.6px;color:#1d1d1d;left:496px;width:600px;text-align:right;">113</div>
<div class="t" style="top:413.39px;font-size:12.6px;line-height:12.6px;color:#1d1d1d;left:539px;width:600px;text-align:right;">39</div>
<div class="t" style="top:413.39px;font-size:12.6px;line-height:12.6px;color:#1d1d1d;left:581px;width:600px;text-align:right;">107</div>
<div class="t" style="top:413.39px;font-size:12.6px;line-height:12.6px;color:#1d1d1d;left:614px;width:600px;text-align:right;">0</div>
<div class="t" style="top:413.39px;font-size:12.6px;line-height:12.6px;color:#1d1d1d;left:647px;width:600px;text-align:right;">1</div>
<div class="t" style="top:413.39px;font-size:12.6px;line-height:12.6px;color:#1d1d1d;left:694px;width:600px;text-align:right;">.304</div>
<div class="t" style="top:413.39px;font-size:12.6px;line-height:12.6px;color:#1d1d1d;left:741px;width:600px;text-align:right;">.348</div>
<div class="t" style="top:413.39px;font-size:12.6px;line-height:12.6px;color:#1d1d1d;left:787px;width:600px;text-align:right;">.536</div>
<div class="t" style="top:413.39px;font-size:12.6px;line-height:12.6px;color:#1d1d1d;left:836px;width:600px;text-align:right;">.884</div>
<div class="t" style="top:413.39px;font-size:12.6px;line-height:12.6px;color:#1d1d1d;left:887px;width:600px;text-align:right;">144</div>
<div class="t" style="top:413.39px;font-size:12.6px;line-height:12.6px;color:#1d1d1d;left:935px;width:600px;text-align:right;">6.2</div>
<div class="t" style="top:437.39px;font-size:12.6px;line-height:12.6px;color:#1d1d1d;left:224px;width:600px;text-align:center;">2029</div>
<div class="t" style="top:437.39px;font-size:12.6px;line-height:12.6px;color:#1d1d1d;left:289px;width:600px;text-align:center;">29</div>
<div class="t" style="top:437.39px;font-size:12.6px;line-height:12.6px;color:#1d1d1d;left:328.6px;width:600px;text-align:center;">STL</div>
<div class="t" style="top:437.39px;font-size:12.6px;line-height:12.6px;color:#1d1d1d;left:379px;width:600px;text-align:center;">MLB</div>
<div class="t" style="top:437.39px;font-size:12.6px;line-height:12.6px;color:#1d1d1d;left:143px;width:600px;text-align:right;">163</div>
<div class="t" style="top:437.39px;font-size:12.6px;line-height:12.6px;color:#1d1d1d;left:185px;width:600px;text-align:right;">163</div>
<div class="t" style="top:437.39px;font-size:12.6px;line-height:12.6px;color:#1d1d1d;left:228px;width:600px;text-align:right;">715</div>
<div class="t" style="top:437.39px;font-size:12.6px;line-height:12.6px;color:#1d1d1d;left:270px;width:600px;text-align:right;">638</div>
<div class="t" style="top:437.39px;font-size:12.6px;line-height:12.6px;color:#1d1d1d;left:313px;width:600px;text-align:right;">91</div>
<div class="t" style="top:437.39px;font-size:12.6px;line-height:12.6px;color:#1d1d1d;left:355px;width:600px;text-align:right;">195</div>
<div class="t" style="top:437.39px;font-size:12.6px;line-height:12.6px;color:#1d1d1d;left:388px;width:600px;text-align:right;">34</div>
<div class="t" style="top:437.39px;font-size:12.6px;line-height:12.6px;color:#1d1d1d;left:421px;width:600px;text-align:right;">0</div>
<div class="t" style="top:437.39px;font-size:12.6px;line-height:12.6px;color:#1d1d1d;left:454px;width:600px;text-align:right;">30</div>
<div class="t" style="top:437.39px;font-size:12.6px;line-height:12.6px;color:#1d1d1d;left:496px;width:600px;text-align:right;">96</div>
<div class="t" style="top:437.39px;font-size:12.6px;line-height:12.6px;color:#1d1d1d;left:539px;width:600px;text-align:right;">64</div>
<div class="t" style="top:437.39px;font-size:12.6px;line-height:12.6px;color:#1d1d1d;left:581px;width:600px;text-align:right;">93</div>
<div class="t" style="top:437.39px;font-size:12.6px;line-height:12.6px;color:#1d1d1d;left:614px;width:600px;text-align:right;">0</div>
<div class="t" style="top:437.39px;font-size:12.6px;line-height:12.6px;color:#1d1d1d;left:647px;width:600px;text-align:right;">0</div>
<div class="t" style="top:437.39px;font-size:12.6px;line-height:12.6px;color:#1d1d1d;left:694px;width:600px;text-align:right;">.306</div>
<div class="t" style="top:437.39px;font-size:12.6px;line-height:12.6px;color:#1d1d1d;left:741px;width:600px;text-align:right;">.370</div>
<div class="t" style="top:437.39px;font-size:12.6px;line-height:12.6px;color:#1d1d1d;left:787px;width:600px;text-align:right;">.500</div>
<div class="t" style="top:437.39px;font-size:12.6px;line-height:12.6px;color:#1d1d1d;left:836px;width:600px;text-align:right;">.870</div>
<div class="t" style="top:437.39px;font-size:12.6px;line-height:12.6px;color:#1d1d1d;left:887px;width:600px;text-align:right;">141</div>
<div class="t" style="top:437.39px;font-size:12.6px;line-height:12.6px;color:#1d1d1d;left:935px;width:600px;text-align:right;">5.8</div>
<div class="t" style="top:461.39px;font-size:12.6px;line-height:12.6px;color:#1d1d1d;left:224px;width:600px;text-align:center;">2030</div>
<div class="t" style="top:461.39px;font-size:12.6px;line-height:12.6px;color:#1d1d1d;left:289px;width:600px;text-align:center;">30</div>
<div class="t" style="top:461.39px;font-size:12.6px;line-height:12.6px;color:#1d1d1d;left:328.6px;width:600px;text-align:center;">STL</div>
<div class="t" style="top:461.39px;font-size:12.6px;line-height:12.6px;color:#1d1d1d;left:379px;width:600px;text-align:center;">MLB</div>
<div class="t" style="top:461.39px;font-size:12.6px;line-height:12.6px;color:#1d1d1d;left:143px;width:600px;text-align:right;">161</div>
<div class="t" style="top:461.39px;font-size:12.6px;line-height:12.6px;color:#1d1d1d;left:185px;width:600px;text-align:right;">161</div>
<div class="t" style="top:461.39px;font-size:12.6px;line-height:12.6px;color:#1d1d1d;left:228px;width:600px;text-align:right;">718</div>
<div class="t" style="top:461.39px;font-size:12.6px;line-height:12.6px;color:#1d1d1d;left:270px;width:600px;text-align:right;">633</div>
<div class="t" style="top:461.39px;font-size:12.6px;line-height:12.6px;color:#1d1d1d;left:313px;width:600px;text-align:right;">86</div>
<div class="t" style="top:461.39px;font-size:12.6px;line-height:12.6px;color:#1d1d1d;left:355px;width:600px;text-align:right;">170</div>
<div class="t" style="top:461.39px;font-size:12.6px;line-height:12.6px;color:#1d1d1d;left:388px;width:600px;text-align:right;">34</div>
<div class="t" style="top:461.39px;font-size:12.6px;line-height:12.6px;color:#1d1d1d;left:421px;width:600px;text-align:right;">5</div>
<div class="t" style="top:461.39px;font-size:12.6px;line-height:12.6px;color:#1d1d1d;left:454px;width:600px;text-align:right;">25</div>
<div class="t" style="top:461.39px;font-size:12.6px;line-height:12.6px;color:#1d1d1d;left:496px;width:600px;text-align:right;">97</div>
<div class="t" style="top:461.39px;font-size:12.6px;line-height:12.6px;color:#1d1d1d;left:539px;width:600px;text-align:right;">64</div>
<div class="t" style="top:461.39px;font-size:12.6px;line-height:12.6px;color:#1d1d1d;left:581px;width:600px;text-align:right;">93</div>
<div class="t" style="top:461.39px;font-size:12.6px;line-height:12.6px;color:#1d1d1d;left:614px;width:600px;text-align:right;">0</div>
<div class="t" style="top:461.39px;font-size:12.6px;line-height:12.6px;color:#1d1d1d;left:647px;width:600px;text-align:right;">0</div>
<div class="t" style="top:461.39px;font-size:12.6px;line-height:12.6px;color:#1d1d1d;left:694px;width:600px;text-align:right;">.269</div>
<div class="t" style="top:461.39px;font-size:12.6px;line-height:12.6px;color:#1d1d1d;left:741px;width:600px;text-align:right;">.343</div>
<div class="t" style="top:461.39px;font-size:12.6px;line-height:12.6px;color:#1d1d1d;left:787px;width:600px;text-align:right;">.457</div>
<div class="t" style="top:461.39px;font-size:12.6px;line-height:12.6px;color:#1d1d1d;left:836px;width:600px;text-align:right;">.800</div>
<div class="t" style="top:461.39px;font-size:12.6px;line-height:12.6px;color:#1d1d1d;left:887px;width:600px;text-align:right;">125</div>
<div class="t" style="top:461.39px;font-size:12.6px;line-height:12.6px;color:#1d1d1d;left:935px;width:600px;text-align:right;">4.2</div>
<div class="t" style="top:485.39px;font-size:12.6px;line-height:12.6px;color:#1d1d1d;left:224px;width:600px;text-align:center;">2031</div>
<div class="t" style="top:485.39px;font-size:12.6px;line-height:12.6px;color:#1d1d1d;left:289px;width:600px;text-align:center;">31</div>
<div class="t" style="top:485.39px;font-size:12.6px;line-height:12.6px;color:#1d1d1d;left:328.6px;width:600px;text-align:center;">STL</div>
<div class="t" style="top:485.39px;font-size:12.6px;line-height:12.6px;color:#1d1d1d;left:379px;width:600px;text-align:center;">MLB</div>
<div class="t" style="top:485.39px;font-size:12.6px;line-height:12.6px;color:#1d1d1d;left:143px;width:600px;text-align:right;">161</div>
<div class="t" style="top:485.39px;font-size:12.6px;line-height:12.6px;color:#1d1d1d;left:185px;width:600px;text-align:right;">161</div>
<div class="t" style="top:485.39px;font-size:12.6px;line-height:12.6px;color:#1d1d1d;left:228px;width:600px;text-align:right;">710</div>
<div class="t" style="top:485.39px;font-size:12.6px;line-height:12.6px;color:#1d1d1d;left:270px;width:600px;text-align:right;">635</div>
<div class="t" style="top:485.39px;font-size:12.6px;line-height:12.6px;color:#1d1d1d;left:313px;width:600px;text-align:right;">94</div>
<div class="t" style="top:485.39px;font-size:12.6px;line-height:12.6px;color:#1d1d1d;left:355px;width:600px;text-align:right;">175</div>
<div class="t" style="top:485.39px;font-size:12.6px;line-height:12.6px;color:#1d1d1d;left:388px;width:600px;text-align:right;">29</div>
<div class="t" style="top:485.39px;font-size:12.6px;line-height:12.6px;color:#1d1d1d;left:421px;width:600px;text-align:right;">2</div>
<div class="t" style="top:485.39px;font-size:12.6px;line-height:12.6px;color:#1d1d1d;left:454px;width:600px;text-align:right;">24</div>
<div class="t" style="top:485.39px;font-size:12.6px;line-height:12.6px;color:#1d1d1d;left:496px;width:600px;text-align:right;">86</div>
<div class="t" style="top:485.39px;font-size:12.6px;line-height:12.6px;color:#1d1d1d;left:539px;width:600px;text-align:right;">62</div>
<div class="t" style="top:485.39px;font-size:12.6px;line-height:12.6px;color:#1d1d1d;left:581px;width:600px;text-align:right;">117</div>
<div class="t" style="top:485.39px;font-size:12.6px;line-height:12.6px;color:#1d1d1d;left:614px;width:600px;text-align:right;">0</div>
<div class="t" style="top:485.39px;font-size:12.6px;line-height:12.6px;color:#1d1d1d;left:647px;width:600px;text-align:right;">0</div>
<div class="t" style="top:485.39px;font-size:12.6px;line-height:12.6px;color:#1d1d1d;left:694px;width:600px;text-align:right;">.276</div>
<div class="t" style="top:485.39px;font-size:12.6px;line-height:12.6px;color:#1d1d1d;left:741px;width:600px;text-align:right;">.345</div>
<div class="t" style="top:485.39px;font-size:12.6px;line-height:12.6px;color:#1d1d1d;left:787px;width:600px;text-align:right;">.441</div>
<div class="t" style="top:485.39px;font-size:12.6px;line-height:12.6px;color:#1d1d1d;left:836px;width:600px;text-align:right;">.786</div>
<div class="t" style="top:485.39px;font-size:12.6px;line-height:12.6px;color:#1d1d1d;left:887px;width:600px;text-align:right;">121</div>
<div class="t" style="top:485.39px;font-size:12.6px;line-height:12.6px;color:#1d1d1d;left:935px;width:600px;text-align:right;">3.8</div>
<div class="t" style="top:509.39px;font-size:12.6px;line-height:12.6px;color:#1d1d1d;left:224px;width:600px;text-align:center;">2032</div>
<div class="t" style="top:509.39px;font-size:12.6px;line-height:12.6px;color:#1d1d1d;left:289px;width:600px;text-align:center;">32</div>
<div class="t" style="top:509.39px;font-size:12.6px;line-height:12.6px;color:#1d1d1d;left:328.6px;width:600px;text-align:center;">STL</div>
<div class="t" style="top:509.39px;font-size:12.6px;line-height:12.6px;color:#1d1d1d;left:379px;width:600px;text-align:center;">MLB</div>
<div class="t" style="top:509.39px;font-size:12.6px;line-height:12.6px;color:#1d1d1d;left:143px;width:600px;text-align:right;">161</div>
<div class="t" style="top:509.39px;font-size:12.6px;line-height:12.6px;color:#1d1d1d;left:185px;width:600px;text-align:right;">161</div>
<div class="t" style="top:509.39px;font-size:12.6px;line-height:12.6px;color:#1d1d1d;left:228px;width:600px;text-align:right;">725</div>
<div class="t" style="top:509.39px;font-size:12.6px;line-height:12.6px;color:#1d1d1d;left:270px;width:600px;text-align:right;">633</div>
<div class="t" style="top:509.39px;font-size:12.6px;line-height:12.6px;color:#1d1d1d;left:313px;width:600px;text-align:right;">106</div>
<div class="t" style="top:509.39px;font-size:12.6px;line-height:12.6px;color:#1d1d1d;left:355px;width:600px;text-align:right;">188</div>
<div class="t" style="top:509.39px;font-size:12.6px;line-height:12.6px;color:#a00c0c;font-weight:700;left:388px;width:600px;text-align:right;">51</div>
<div class="t" style="top:509.39px;font-size:12.6px;line-height:12.6px;color:#1d1d1d;left:421px;width:600px;text-align:right;">0</div>
<div class="t" style="top:509.39px;font-size:12.6px;line-height:12.6px;color:#1d1d1d;left:454px;width:600px;text-align:right;">25</div>
<div class="t" style="top:509.39px;font-size:12.6px;line-height:12.6px;color:#1d1d1d;left:496px;width:600px;text-align:right;">91</div>
<div class="t" style="top:509.39px;font-size:12.6px;line-height:12.6px;color:#1d1d1d;left:539px;width:600px;text-align:right;">72</div>
<div class="t" style="top:509.39px;font-size:12.6px;line-height:12.6px;color:#1d1d1d;left:581px;width:600px;text-align:right;">120</div>
<div class="t" style="top:509.39px;font-size:12.6px;line-height:12.6px;color:#1d1d1d;left:614px;width:600px;text-align:right;">0</div>
<div class="t" style="top:509.39px;font-size:12.6px;line-height:12.6px;color:#1d1d1d;left:647px;width:600px;text-align:right;">0</div>
<div class="t" style="top:509.39px;font-size:12.6px;line-height:12.6px;color:#1d1d1d;left:694px;width:600px;text-align:right;">.297</div>
<div class="t" style="top:509.39px;font-size:12.6px;line-height:12.6px;color:#1d1d1d;left:741px;width:600px;text-align:right;">.375</div>
<div class="t" style="top:509.39px;font-size:12.6px;line-height:12.6px;color:#1d1d1d;left:787px;width:600px;text-align:right;">.496</div>
<div class="t" style="top:509.39px;font-size:12.6px;line-height:12.6px;color:#1d1d1d;left:836px;width:600px;text-align:right;">.871</div>
<div class="t" style="top:509.39px;font-size:12.6px;line-height:12.6px;color:#1d1d1d;left:887px;width:600px;text-align:right;">143</div>
<div class="t" style="top:509.39px;font-size:12.6px;line-height:12.6px;color:#1d1d1d;left:935px;width:600px;text-align:right;">5.8</div>
<div class="t" style="top:533.39px;font-size:12.6px;line-height:12.6px;color:#1d1d1d;left:224px;width:600px;text-align:center;">2033</div>
<div class="t" style="top:533.39px;font-size:12.6px;line-height:12.6px;color:#1d1d1d;left:289px;width:600px;text-align:center;">33</div>
<div class="t" style="top:533.39px;font-size:12.6px;line-height:12.6px;color:#1d1d1d;left:328.6px;width:600px;text-align:center;">STL</div>
<div class="t" style="top:533.39px;font-size:12.6px;line-height:12.6px;color:#1d1d1d;left:379px;width:600px;text-align:center;">MLB</div>
<div class="t" style="top:533.39px;font-size:12.6px;line-height:12.6px;color:#1d1d1d;left:143px;width:600px;text-align:right;">161</div>
<div class="t" style="top:533.39px;font-size:12.6px;line-height:12.6px;color:#1d1d1d;left:185px;width:600px;text-align:right;">155</div>
<div class="t" style="top:533.39px;font-size:12.6px;line-height:12.6px;color:#1d1d1d;left:228px;width:600px;text-align:right;">695</div>
<div class="t" style="top:533.39px;font-size:12.6px;line-height:12.6px;color:#1d1d1d;left:270px;width:600px;text-align:right;">614</div>
<div class="t" style="top:533.39px;font-size:12.6px;line-height:12.6px;color:#1d1d1d;left:313px;width:600px;text-align:right;">95</div>
<div class="t" style="top:533.39px;font-size:12.6px;line-height:12.6px;color:#1d1d1d;left:355px;width:600px;text-align:right;">199</div>
<div class="t" style="top:533.39px;font-size:12.6px;line-height:12.6px;color:#1d1d1d;left:388px;width:600px;text-align:right;">35</div>
<div class="t" style="top:533.39px;font-size:12.6px;line-height:12.6px;color:#1d1d1d;left:421px;width:600px;text-align:right;">0</div>
<div class="t" style="top:533.39px;font-size:12.6px;line-height:12.6px;color:#1d1d1d;left:454px;width:600px;text-align:right;">25</div>
<div class="t" style="top:533.39px;font-size:12.6px;line-height:12.6px;color:#1d1d1d;left:496px;width:600px;text-align:right;">90</div>
<div class="t" style="top:533.39px;font-size:12.6px;line-height:12.6px;color:#1d1d1d;left:539px;width:600px;text-align:right;">69</div>
<div class="t" style="top:533.39px;font-size:12.6px;line-height:12.6px;color:#1d1d1d;left:581px;width:600px;text-align:right;">97</div>
<div class="t" style="top:533.39px;font-size:12.6px;line-height:12.6px;color:#1d1d1d;left:614px;width:600px;text-align:right;">0</div>
<div class="t" style="top:533.39px;font-size:12.6px;line-height:12.6px;color:#1d1d1d;left:647px;width:600px;text-align:right;">1</div>
<div class="t" style="top:533.39px;font-size:12.6px;line-height:12.6px;color:#1d1d1d;left:694px;width:600px;text-align:right;">.324</div>
<div class="t" style="top:533.39px;font-size:12.6px;line-height:12.6px;color:#1d1d1d;left:741px;width:600px;text-align:right;">.393</div>
<div class="t" style="top:533.39px;font-size:12.6px;line-height:12.6px;color:#1d1d1d;left:787px;width:600px;text-align:right;">.503</div>
<div class="t" style="top:533.39px;font-size:12.6px;line-height:12.6px;color:#1d1d1d;left:836px;width:600px;text-align:right;">.897</div>
<div class="t" style="top:533.39px;font-size:12.6px;line-height:12.6px;color:#1d1d1d;left:887px;width:600px;text-align:right;">147</div>
<div class="t" style="top:533.39px;font-size:12.6px;line-height:12.6px;color:#1d1d1d;left:935px;width:600px;text-align:right;">6.2</div>
<div class="t" style="top:557.39px;font-size:12.6px;line-height:12.6px;color:#1d1d1d;left:224px;width:600px;text-align:center;">2034</div>
<div class="t" style="top:557.39px;font-size:12.6px;line-height:12.6px;color:#1d1d1d;left:289px;width:600px;text-align:center;">34</div>
<div class="t" style="top:557.39px;font-size:12.6px;line-height:12.6px;color:#1d1d1d;left:328.6px;width:600px;text-align:center;">STL</div>
<div class="t" style="top:557.39px;font-size:12.6px;line-height:12.6px;color:#1d1d1d;left:379px;width:600px;text-align:center;">MLB</div>
<div class="t" style="top:557.39px;font-size:12.6px;line-height:12.6px;color:#1d1d1d;left:143px;width:600px;text-align:right;">162</div>
<div class="t" style="top:557.39px;font-size:12.6px;line-height:12.6px;color:#1d1d1d;left:185px;width:600px;text-align:right;">162</div>
<div class="t" style="top:557.39px;font-size:12.6px;line-height:12.6px;color:#1d1d1d;left:228px;width:600px;text-align:right;">721</div>
<div class="t" style="top:557.39px;font-size:12.6px;line-height:12.6px;color:#1d1d1d;left:270px;width:600px;text-align:right;">637</div>
<div class="t" style="top:557.39px;font-size:12.6px;line-height:12.6px;color:#1d1d1d;left:313px;width:600px;text-align:right;">88</div>
<div class="t" style="top:557.39px;font-size:12.6px;line-height:12.6px;color:#1d1d1d;left:355px;width:600px;text-align:right;">169</div>
<div class="t" style="top:557.39px;font-size:12.6px;line-height:12.6px;color:#1d1d1d;left:388px;width:600px;text-align:right;">37</div>
<div class="t" style="top:557.39px;font-size:12.6px;line-height:12.6px;color:#1d1d1d;left:421px;width:600px;text-align:right;">2</div>
<div class="t" style="top:557.39px;font-size:12.6px;line-height:12.6px;color:#1d1d1d;left:454px;width:600px;text-align:right;">24</div>
<div class="t" style="top:557.39px;font-size:12.6px;line-height:12.6px;color:#1d1d1d;left:496px;width:600px;text-align:right;">68</div>
<div class="t" style="top:557.39px;font-size:12.6px;line-height:12.6px;color:#1d1d1d;left:539px;width:600px;text-align:right;">65</div>
<div class="t" style="top:557.39px;font-size:12.6px;line-height:12.6px;color:#1d1d1d;left:581px;width:600px;text-align:right;">131</div>
<div class="t" style="top:557.39px;font-size:12.6px;line-height:12.6px;color:#1d1d1d;left:614px;width:600px;text-align:right;">1</div>
<div class="t" style="top:557.39px;font-size:12.6px;line-height:12.6px;color:#1d1d1d;left:647px;width:600px;text-align:right;">0</div>
<div class="t" style="top:557.39px;font-size:12.6px;line-height:12.6px;color:#1d1d1d;left:694px;width:600px;text-align:right;">.265</div>
<div class="t" style="top:557.39px;font-size:12.6px;line-height:12.6px;color:#1d1d1d;left:741px;width:600px;text-align:right;">.337</div>
<div class="t" style="top:557.39px;font-size:12.6px;line-height:12.6px;color:#1d1d1d;left:787px;width:600px;text-align:right;">.443</div>
<div class="t" style="top:557.39px;font-size:12.6px;line-height:12.6px;color:#1d1d1d;left:836px;width:600px;text-align:right;">.780</div>
<div class="t" style="top:557.39px;font-size:12.6px;line-height:12.6px;color:#1d1d1d;left:887px;width:600px;text-align:right;">117</div>
<div class="t" style="top:557.39px;font-size:12.6px;line-height:12.6px;color:#1d1d1d;left:935px;width:600px;text-align:right;">3.6</div>
<div class="t" style="top:581.39px;font-size:12.6px;line-height:12.6px;color:#1d1d1d;left:224px;width:600px;text-align:center;">2035</div>
<div class="t" style="top:581.39px;font-size:12.6px;line-height:12.6px;color:#1d1d1d;left:289px;width:600px;text-align:center;">35</div>
<div class="t" style="top:581.39px;font-size:12.6px;line-height:12.6px;color:#1d1d1d;left:328.6px;width:600px;text-align:center;">STL</div>
<div class="t" style="top:581.39px;font-size:12.6px;line-height:12.6px;color:#1d1d1d;left:379px;width:600px;text-align:center;">MLB</div>
<div class="t" style="top:581.39px;font-size:12.6px;line-height:12.6px;color:#1d1d1d;left:143px;width:600px;text-align:right;">162</div>
<div class="t" style="top:581.39px;font-size:12.6px;line-height:12.6px;color:#1d1d1d;left:185px;width:600px;text-align:right;">162</div>
<div class="t" style="top:581.39px;font-size:12.6px;line-height:12.6px;color:#1d1d1d;left:228px;width:600px;text-align:right;">722</div>
<div class="t" style="top:581.39px;font-size:12.6px;line-height:12.6px;color:#1d1d1d;left:270px;width:600px;text-align:right;">624</div>
<div class="t" style="top:581.39px;font-size:12.6px;line-height:12.6px;color:#1d1d1d;left:313px;width:600px;text-align:right;">105</div>
<div class="t" style="top:581.39px;font-size:12.6px;line-height:12.6px;color:#1d1d1d;left:355px;width:600px;text-align:right;">172</div>
<div class="t" style="top:581.39px;font-size:12.6px;line-height:12.6px;color:#1d1d1d;left:388px;width:600px;text-align:right;">44</div>
<div class="t" style="top:581.39px;font-size:12.6px;line-height:12.6px;color:#1d1d1d;left:421px;width:600px;text-align:right;">1</div>
<div class="t" style="top:581.39px;font-size:12.6px;line-height:12.6px;color:#1d1d1d;left:454px;width:600px;text-align:right;">24</div>
<div class="t" style="top:581.39px;font-size:12.6px;line-height:12.6px;color:#1d1d1d;left:496px;width:600px;text-align:right;">85</div>
<div class="t" style="top:581.39px;font-size:12.6px;line-height:12.6px;color:#1d1d1d;left:539px;width:600px;text-align:right;">84</div>
<div class="t" style="top:581.39px;font-size:12.6px;line-height:12.6px;color:#1d1d1d;left:581px;width:600px;text-align:right;">116</div>
<div class="t" style="top:581.39px;font-size:12.6px;line-height:12.6px;color:#1d1d1d;left:614px;width:600px;text-align:right;">0</div>
<div class="t" style="top:581.39px;font-size:12.6px;line-height:12.6px;color:#1d1d1d;left:647px;width:600px;text-align:right;">0</div>
<div class="t" style="top:581.39px;font-size:12.6px;line-height:12.6px;color:#1d1d1d;left:694px;width:600px;text-align:right;">.276</div>
<div class="t" style="top:581.39px;font-size:12.6px;line-height:12.6px;color:#1d1d1d;left:741px;width:600px;text-align:right;">.368</div>
<div class="t" style="top:581.39px;font-size:12.6px;line-height:12.6px;color:#1d1d1d;left:787px;width:600px;text-align:right;">.465</div>
<div class="t" style="top:581.39px;font-size:12.6px;line-height:12.6px;color:#1d1d1d;left:836px;width:600px;text-align:right;">.833</div>
<div class="t" style="top:581.39px;font-size:12.6px;line-height:12.6px;color:#1d1d1d;left:887px;width:600px;text-align:right;">131</div>
<div class="t" style="top:581.39px;font-size:12.6px;line-height:12.6px;color:#1d1d1d;left:935px;width:600px;text-align:right;">5.1</div>
<div class="t" style="top:605.39px;font-size:12.6px;line-height:12.6px;color:#1d1d1d;left:224px;width:600px;text-align:center;">2036</div>
<div class="t" style="top:605.39px;font-size:12.6px;line-height:12.6px;color:#1d1d1d;left:289px;width:600px;text-align:center;">36</div>
<div class="t" style="top:605.39px;font-size:12.6px;line-height:12.6px;color:#1d1d1d;left:328.6px;width:600px;text-align:center;">COL</div>
<div class="t" style="top:605.39px;font-size:12.6px;line-height:12.6px;color:#1d1d1d;left:379px;width:600px;text-align:center;">MLB</div>
<div class="t" style="top:605.39px;font-size:12.6px;line-height:12.6px;color:#1d1d1d;left:143px;width:600px;text-align:right;">161</div>
<div class="t" style="top:605.39px;font-size:12.6px;line-height:12.6px;color:#1d1d1d;left:185px;width:600px;text-align:right;">161</div>
<div class="t" style="top:605.39px;font-size:12.6px;line-height:12.6px;color:#1d1d1d;left:228px;width:600px;text-align:right;">727</div>
<div class="t" style="top:605.39px;font-size:12.6px;line-height:12.6px;color:#1d1d1d;left:270px;width:600px;text-align:right;">618</div>
<div class="t" style="top:605.39px;font-size:12.6px;line-height:12.6px;color:#1d1d1d;left:313px;width:600px;text-align:right;">79</div>
<div class="t" style="top:605.39px;font-size:12.6px;line-height:12.6px;color:#1d1d1d;left:355px;width:600px;text-align:right;">156</div>
<div class="t" style="top:605.39px;font-size:12.6px;line-height:12.6px;color:#1d1d1d;left:388px;width:600px;text-align:right;">30</div>
<div class="t" style="top:605.39px;font-size:12.6px;line-height:12.6px;color:#1d1d1d;left:421px;width:600px;text-align:right;">2</div>
<div class="t" style="top:605.39px;font-size:12.6px;line-height:12.6px;color:#1d1d1d;left:454px;width:600px;text-align:right;">17</div>
<div class="t" style="top:605.39px;font-size:12.6px;line-height:12.6px;color:#1d1d1d;left:496px;width:600px;text-align:right;">82</div>
<div class="t" style="top:605.39px;font-size:12.6px;line-height:12.6px;color:#1d1d1d;left:539px;width:600px;text-align:right;">99</div>
<div class="t" style="top:605.39px;font-size:12.6px;line-height:12.6px;color:#1d1d1d;left:581px;width:600px;text-align:right;">120</div>
<div class="t" style="top:605.39px;font-size:12.6px;line-height:12.6px;color:#1d1d1d;left:614px;width:600px;text-align:right;">0</div>
<div class="t" style="top:605.39px;font-size:12.6px;line-height:12.6px;color:#1d1d1d;left:647px;width:600px;text-align:right;">0</div>
<div class="t" style="top:605.39px;font-size:12.6px;line-height:12.6px;color:#1d1d1d;left:694px;width:600px;text-align:right;">.252</div>
<div class="t" style="top:605.39px;font-size:12.6px;line-height:12.6px;color:#1d1d1d;left:741px;width:600px;text-align:right;">.356</div>
<div class="t" style="top:605.39px;font-size:12.6px;line-height:12.6px;color:#1d1d1d;left:787px;width:600px;text-align:right;">.390</div>
<div class="t" style="top:605.39px;font-size:12.6px;line-height:12.6px;color:#1d1d1d;left:836px;width:600px;text-align:right;">.746</div>
<div class="t" style="top:605.39px;font-size:12.6px;line-height:12.6px;color:#1d1d1d;left:887px;width:600px;text-align:right;">96</div>
<div class="t" style="top:605.39px;font-size:12.6px;line-height:12.6px;color:#1d1d1d;left:935px;width:600px;text-align:right;">3.0</div>
<div class="t" style="top:629.39px;font-size:12.6px;line-height:12.6px;color:#1d1d1d;left:224px;width:600px;text-align:center;">2037</div>
<div class="t" style="top:629.39px;font-size:12.6px;line-height:12.6px;color:#1d1d1d;left:289px;width:600px;text-align:center;">37</div>
<div class="t" style="top:629.39px;font-size:12.6px;line-height:12.6px;color:#1d1d1d;left:328.6px;width:600px;text-align:center;">TOR</div>
<div class="t" style="top:629.39px;font-size:12.6px;line-height:12.6px;color:#1d1d1d;left:379px;width:600px;text-align:center;">MLB</div>
<div class="t" style="top:629.39px;font-size:12.6px;line-height:12.6px;color:#1d1d1d;left:143px;width:600px;text-align:right;">162</div>
<div class="t" style="top:629.39px;font-size:12.6px;line-height:12.6px;color:#1d1d1d;left:185px;width:600px;text-align:right;">162</div>
<div class="t" style="top:629.39px;font-size:12.6px;line-height:12.6px;color:#a00c0c;font-weight:700;left:228px;width:600px;text-align:right;">766</div>
<div class="t" style="top:629.39px;font-size:12.6px;line-height:12.6px;color:#1d1d1d;left:270px;width:600px;text-align:right;">656</div>
<div class="t" style="top:629.39px;font-size:12.6px;line-height:12.6px;color:#a00c0c;font-weight:700;left:313px;width:600px;text-align:right;">131</div>
<div class="t" style="top:629.39px;font-size:12.6px;line-height:12.6px;color:#1d1d1d;left:355px;width:600px;text-align:right;">209</div>
<div class="t" style="top:629.39px;font-size:12.6px;line-height:12.6px;color:#1d1d1d;left:388px;width:600px;text-align:right;">35</div>
<div class="t" style="top:629.39px;font-size:12.6px;line-height:12.6px;color:#1d1d1d;left:421px;width:600px;text-align:right;">0</div>
<div class="t" style="top:629.39px;font-size:12.6px;line-height:12.6px;color:#a00c0c;font-weight:700;left:454px;width:600px;text-align:right;">49</div>
<div class="t" style="top:629.39px;font-size:12.6px;line-height:12.6px;color:#a00c0c;font-weight:700;left:496px;width:600px;text-align:right;">144</div>
<div class="t" style="top:629.39px;font-size:12.6px;line-height:12.6px;color:#1d1d1d;left:539px;width:600px;text-align:right;">91</div>
<div class="t" style="top:629.39px;font-size:12.6px;line-height:12.6px;color:#1d1d1d;left:581px;width:600px;text-align:right;">116</div>
<div class="t" style="top:629.39px;font-size:12.6px;line-height:12.6px;color:#1d1d1d;left:614px;width:600px;text-align:right;">0</div>
<div class="t" style="top:629.39px;font-size:12.6px;line-height:12.6px;color:#1d1d1d;left:647px;width:600px;text-align:right;">0</div>
<div class="t" style="top:629.39px;font-size:12.6px;line-height:12.6px;color:#1d1d1d;left:694px;width:600px;text-align:right;">.319</div>
<div class="t" style="top:629.39px;font-size:12.6px;line-height:12.6px;color:#a00c0c;font-weight:700;left:741px;width:600px;text-align:right;">.406</div>
<div class="t" style="top:629.39px;font-size:12.6px;line-height:12.6px;color:#a00c0c;font-weight:700;left:787px;width:600px;text-align:right;">.596</div>
<div class="t" style="top:629.39px;font-size:12.6px;line-height:12.6px;color:#a00c0c;font-weight:700;left:836px;width:600px;text-align:right;">1.002</div>
<div class="t" style="top:629.39px;font-size:12.6px;line-height:12.6px;color:#1d1d1d;left:887px;width:600px;text-align:right;">170</div>
<div class="t" style="top:629.39px;font-size:12.6px;line-height:12.6px;color:#a00c0c;font-weight:700;left:935px;width:600px;text-align:right;">8.7</div>
<div class="t" style="top:653.39px;font-size:12.6px;line-height:12.6px;color:#1d1d1d;left:224px;width:600px;text-align:center;">2038</div>
<div class="t" style="top:653.39px;font-size:12.6px;line-height:12.6px;color:#1d1d1d;left:289px;width:600px;text-align:center;">38</div>
<div class="t" style="top:653.39px;font-size:12.6px;line-height:12.6px;color:#1d1d1d;left:328.6px;width:600px;text-align:center;">COL</div>
<div class="t" style="top:653.39px;font-size:12.6px;line-height:12.6px;color:#1d1d1d;left:379px;width:600px;text-align:center;">MLB</div>
<div class="t" style="top:653.39px;font-size:12.6px;line-height:12.6px;color:#1d1d1d;left:143px;width:600px;text-align:right;">144</div>
<div class="t" style="top:653.39px;font-size:12.6px;line-height:12.6px;color:#1d1d1d;left:185px;width:600px;text-align:right;">116</div>
<div class="t" style="top:653.39px;font-size:12.6px;line-height:12.6px;color:#1d1d1d;left:228px;width:600px;text-align:right;">530</div>
<div class="t" style="top:653.39px;font-size:12.6px;line-height:12.6px;color:#1d1d1d;left:270px;width:600px;text-align:right;">448</div>
<div class="t" style="top:653.39px;font-size:12.6px;line-height:12.6px;color:#1d1d1d;left:313px;width:600px;text-align:right;">75</div>
<div class="t" style="top:653.39px;font-size:12.6px;line-height:12.6px;color:#1d1d1d;left:355px;width:600px;text-align:right;">128</div>
<div class="t" style="top:653.39px;font-size:12.6px;line-height:12.6px;color:#1d1d1d;left:388px;width:600px;text-align:right;">28</div>
<div class="t" style="top:653.39px;font-size:12.6px;line-height:12.6px;color:#1d1d1d;left:421px;width:600px;text-align:right;">1</div>
<div class="t" style="top:653.39px;font-size:12.6px;line-height:12.6px;color:#1d1d1d;left:454px;width:600px;text-align:right;">16</div>
<div class="t" style="top:653.39px;font-size:12.6px;line-height:12.6px;color:#1d1d1d;left:496px;width:600px;text-align:right;">67</div>
<div class="t" style="top:653.39px;font-size:12.6px;line-height:12.6px;color:#1d1d1d;left:539px;width:600px;text-align:right;">73</div>
<div class="t" style="top:653.39px;font-size:12.6px;line-height:12.6px;color:#1d1d1d;left:581px;width:600px;text-align:right;">74</div>
<div class="t" style="top:653.39px;font-size:12.6px;line-height:12.6px;color:#1d1d1d;left:614px;width:600px;text-align:right;">0</div>
<div class="t" style="top:653.39px;font-size:12.6px;line-height:12.6px;color:#1d1d1d;left:647px;width:600px;text-align:right;">0</div>
<div class="t" style="top:653.39px;font-size:12.6px;line-height:12.6px;color:#1d1d1d;left:694px;width:600px;text-align:right;">.286</div>
<div class="t" style="top:653.39px;font-size:12.6px;line-height:12.6px;color:#1d1d1d;left:741px;width:600px;text-align:right;">.389</div>
<div class="t" style="top:653.39px;font-size:12.6px;line-height:12.6px;color:#1d1d1d;left:787px;width:600px;text-align:right;">.460</div>
<div class="t" style="top:653.39px;font-size:12.6px;line-height:12.6px;color:#1d1d1d;left:836px;width:600px;text-align:right;">.849</div>
<div class="t" style="top:653.39px;font-size:12.6px;line-height:12.6px;color:#1d1d1d;left:887px;width:600px;text-align:right;">139</div>
<div class="t" style="top:653.39px;font-size:12.6px;line-height:12.6px;color:#1d1d1d;left:935px;width:600px;text-align:right;">4.1</div>
<div class="t" style="top:677.39px;font-size:12.6px;line-height:12.6px;color:#1d1d1d;left:224px;width:600px;text-align:center;">2039</div>
<div class="t" style="top:677.39px;font-size:12.6px;line-height:12.6px;color:#1d1d1d;left:289px;width:600px;text-align:center;">39</div>
<div class="t" style="top:677.39px;font-size:12.6px;line-height:12.6px;color:#1d1d1d;left:328.6px;width:600px;text-align:center;">CHC</div>
<div class="t" style="top:677.39px;font-size:12.6px;line-height:12.6px;color:#1d1d1d;left:379px;width:600px;text-align:center;">MLB</div>
<div class="t" style="top:677.39px;font-size:12.6px;line-height:12.6px;color:#1d1d1d;left:143px;width:600px;text-align:right;">161</div>
<div class="t" style="top:677.39px;font-size:12.6px;line-height:12.6px;color:#1d1d1d;left:185px;width:600px;text-align:right;">155</div>
<div class="t" style="top:677.39px;font-size:12.6px;line-height:12.6px;color:#1d1d1d;left:228px;width:600px;text-align:right;">679</div>
<div class="t" style="top:677.39px;font-size:12.6px;line-height:12.6px;color:#1d1d1d;left:270px;width:600px;text-align:right;">590</div>
<div class="t" style="top:677.39px;font-size:12.6px;line-height:12.6px;color:#1d1d1d;left:313px;width:600px;text-align:right;">90</div>
<div class="t" style="top:677.39px;font-size:12.6px;line-height:12.6px;color:#1d1d1d;left:355px;width:600px;text-align:right;">166</div>
<div class="t" style="top:677.39px;font-size:12.6px;line-height:12.6px;color:#1d1d1d;left:388px;width:600px;text-align:right;">36</div>
<div class="t" style="top:677.39px;font-size:12.6px;line-height:12.6px;color:#1d1d1d;left:421px;width:600px;text-align:right;">1</div>
<div class="t" style="top:677.39px;font-size:12.6px;line-height:12.6px;color:#1d1d1d;left:454px;width:600px;text-align:right;">26</div>
<div class="t" style="top:677.39px;font-size:12.6px;line-height:12.6px;color:#1d1d1d;left:496px;width:600px;text-align:right;">111</div>
<div class="t" style="top:677.39px;font-size:12.6px;line-height:12.6px;color:#1d1d1d;left:539px;width:600px;text-align:right;">73</div>
<div class="t" style="top:677.39px;font-size:12.6px;line-height:12.6px;color:#1d1d1d;left:581px;width:600px;text-align:right;">115</div>
<div class="t" style="top:677.39px;font-size:12.6px;line-height:12.6px;color:#1d1d1d;left:614px;width:600px;text-align:right;">0</div>
<div class="t" style="top:677.39px;font-size:12.6px;line-height:12.6px;color:#1d1d1d;left:647px;width:600px;text-align:right;">0</div>
<div class="t" style="top:677.39px;font-size:12.6px;line-height:12.6px;color:#1d1d1d;left:694px;width:600px;text-align:right;">.281</div>
<div class="t" style="top:677.39px;font-size:12.6px;line-height:12.6px;color:#1d1d1d;left:741px;width:600px;text-align:right;">.364</div>
<div class="t" style="top:677.39px;font-size:12.6px;line-height:12.6px;color:#1d1d1d;left:787px;width:600px;text-align:right;">.478</div>
<div class="t" style="top:677.39px;font-size:12.6px;line-height:12.6px;color:#1d1d1d;left:836px;width:600px;text-align:right;">.842</div>
<div class="t" style="top:677.39px;font-size:12.6px;line-height:12.6px;color:#1d1d1d;left:887px;width:600px;text-align:right;">132</div>
<div class="t" style="top:677.39px;font-size:12.6px;line-height:12.6px;color:#1d1d1d;left:935px;width:600px;text-align:right;">5.0</div>
<div class="t" style="top:701.39px;font-size:12.6px;line-height:12.6px;color:#1d1d1d;left:224px;width:600px;text-align:center;">2040</div>
<div class="t" style="top:701.39px;font-size:12.6px;line-height:12.6px;color:#1d1d1d;left:289px;width:600px;text-align:center;">40</div>
<div class="t" style="top:701.39px;font-size:12.6px;line-height:12.6px;color:#1d1d1d;left:328.6px;width:600px;text-align:center;">CHC</div>
<div class="t" style="top:701.39px;font-size:12.6px;line-height:12.6px;color:#1d1d1d;left:379px;width:600px;text-align:center;">MLB</div>
<div class="t" style="top:701.39px;font-size:12.6px;line-height:12.6px;color:#1d1d1d;left:143px;width:600px;text-align:right;">160</div>
<div class="t" style="top:701.39px;font-size:12.6px;line-height:12.6px;color:#1d1d1d;left:185px;width:600px;text-align:right;">152</div>
<div class="t" style="top:701.39px;font-size:12.6px;line-height:12.6px;color:#1d1d1d;left:228px;width:600px;text-align:right;">660</div>
<div class="t" style="top:701.39px;font-size:12.6px;line-height:12.6px;color:#1d1d1d;left:270px;width:600px;text-align:right;">584</div>
<div class="t" style="top:701.39px;font-size:12.6px;line-height:12.6px;color:#1d1d1d;left:313px;width:600px;text-align:right;">72</div>
<div class="t" style="top:701.39px;font-size:12.6px;line-height:12.6px;color:#1d1d1d;left:355px;width:600px;text-align:right;">159</div>
<div class="t" style="top:701.39px;font-size:12.6px;line-height:12.6px;color:#1d1d1d;left:388px;width:600px;text-align:right;">38</div>
<div class="t" style="top:701.39px;font-size:12.6px;line-height:12.6px;color:#1d1d1d;left:421px;width:600px;text-align:right;">2</div>
<div class="t" style="top:701.39px;font-size:12.6px;line-height:12.6px;color:#1d1d1d;left:454px;width:600px;text-align:right;">19</div>
<div class="t" style="top:701.39px;font-size:12.6px;line-height:12.6px;color:#1d1d1d;left:496px;width:600px;text-align:right;">78</div>
<div class="t" style="top:701.39px;font-size:12.6px;line-height:12.6px;color:#1d1d1d;left:539px;width:600px;text-align:right;">68</div>
<div class="t" style="top:701.39px;font-size:12.6px;line-height:12.6px;color:#1d1d1d;left:581px;width:600px;text-align:right;">112</div>
<div class="t" style="top:701.39px;font-size:12.6px;line-height:12.6px;color:#1d1d1d;left:614px;width:600px;text-align:right;">0</div>
<div class="t" style="top:701.39px;font-size:12.6px;line-height:12.6px;color:#1d1d1d;left:647px;width:600px;text-align:right;">0</div>
<div class="t" style="top:701.39px;font-size:12.6px;line-height:12.6px;color:#1d1d1d;left:694px;width:600px;text-align:right;">.272</div>
<div class="t" style="top:701.39px;font-size:12.6px;line-height:12.6px;color:#1d1d1d;left:741px;width:600px;text-align:right;">.352</div>
<div class="t" style="top:701.39px;font-size:12.6px;line-height:12.6px;color:#1d1d1d;left:787px;width:600px;text-align:right;">.442</div>
<div class="t" style="top:701.39px;font-size:12.6px;line-height:12.6px;color:#1d1d1d;left:836px;width:600px;text-align:right;">.794</div>
<div class="t" style="top:701.39px;font-size:12.6px;line-height:12.6px;color:#1d1d1d;left:887px;width:600px;text-align:right;">117</div>
<div class="t" style="top:701.39px;font-size:12.6px;line-height:12.6px;color:#1d1d1d;left:935px;width:600px;text-align:right;">3.6</div>
<div class="t" style="top:725.39px;font-size:12.6px;line-height:12.6px;color:#1d1d1d;left:224px;width:600px;text-align:center;">2041</div>
<div class="t" style="top:725.39px;font-size:12.6px;line-height:12.6px;color:#1d1d1d;left:289px;width:600px;text-align:center;">41</div>
<div class="t" style="top:725.39px;font-size:12.6px;line-height:12.6px;color:#1d1d1d;left:328.6px;width:600px;text-align:center;">TOR</div>
<div class="t" style="top:725.39px;font-size:12.6px;line-height:12.6px;color:#1d1d1d;left:379px;width:600px;text-align:center;">MLB</div>
<div class="t" style="top:725.39px;font-size:12.6px;line-height:12.6px;color:#1d1d1d;left:143px;width:600px;text-align:right;">122</div>
<div class="t" style="top:725.39px;font-size:12.6px;line-height:12.6px;color:#1d1d1d;left:185px;width:600px;text-align:right;">15</div>
<div class="t" style="top:725.39px;font-size:12.6px;line-height:12.6px;color:#1d1d1d;left:228px;width:600px;text-align:right;">163</div>
<div class="t" style="top:725.39px;font-size:12.6px;line-height:12.6px;color:#1d1d1d;left:270px;width:600px;text-align:right;">139</div>
<div class="t" style="top:725.39px;font-size:12.6px;line-height:12.6px;color:#1d1d1d;left:313px;width:600px;text-align:right;">17</div>
<div class="t" style="top:725.39px;font-size:12.6px;line-height:12.6px;color:#1d1d1d;left:355px;width:600px;text-align:right;">26</div>
<div class="t" style="top:725.39px;font-size:12.6px;line-height:12.6px;color:#1d1d1d;left:388px;width:600px;text-align:right;">5</div>
<div class="t" style="top:725.39px;font-size:12.6px;line-height:12.6px;color:#1d1d1d;left:421px;width:600px;text-align:right;">0</div>
<div class="t" style="top:725.39px;font-size:12.6px;line-height:12.6px;color:#1d1d1d;left:454px;width:600px;text-align:right;">3</div>
<div class="t" style="top:725.39px;font-size:12.6px;line-height:12.6px;color:#1d1d1d;left:496px;width:600px;text-align:right;">10</div>
<div class="t" style="top:725.39px;font-size:12.6px;line-height:12.6px;color:#1d1d1d;left:539px;width:600px;text-align:right;">21</div>
<div class="t" style="top:725.39px;font-size:12.6px;line-height:12.6px;color:#1d1d1d;left:581px;width:600px;text-align:right;">38</div>
<div class="t" style="top:725.39px;font-size:12.6px;line-height:12.6px;color:#1d1d1d;left:614px;width:600px;text-align:right;">0</div>
<div class="t" style="top:725.39px;font-size:12.6px;line-height:12.6px;color:#1d1d1d;left:647px;width:600px;text-align:right;">0</div>
<div class="t" style="top:725.39px;font-size:12.6px;line-height:12.6px;color:#1d1d1d;left:694px;width:600px;text-align:right;">.187</div>
<div class="t" style="top:725.39px;font-size:12.6px;line-height:12.6px;color:#1d1d1d;left:741px;width:600px;text-align:right;">.302</div>
<div class="t" style="top:725.39px;font-size:12.6px;line-height:12.6px;color:#1d1d1d;left:787px;width:600px;text-align:right;">.288</div>
<div class="t" style="top:725.39px;font-size:12.6px;line-height:12.6px;color:#1d1d1d;left:836px;width:600px;text-align:right;">.590</div>
<div class="t" style="top:725.39px;font-size:12.6px;line-height:12.6px;color:#1d1d1d;left:887px;width:600px;text-align:right;">65</div>
<div class="t" style="top:725.39px;font-size:12.6px;line-height:12.6px;color:#1d1d1d;left:935px;width:600px;text-align:right;">-0.2</div>
<div class="t" style="top:773.39px;font-size:12.6px;line-height:12.6px;color:#1d1d1d;left:224px;width:600px;text-align:center;">TOTAL</div>
<div class="t" style="top:773.39px;font-size:12.6px;line-height:12.6px;color:#1d1d1d;left:143px;width:600px;text-align:right;">3497</div>
<div class="t" style="top:773.39px;font-size:12.6px;line-height:12.6px;color:#1d1d1d;left:185px;width:600px;text-align:right;">3340</div>
<div class="t" style="top:773.39px;font-size:12.6px;line-height:12.6px;color:#1d1d1d;left:228px;width:600px;text-align:right;">14989</div>
<div class="t" style="top:773.39px;font-size:12.6px;line-height:12.6px;color:#1d1d1d;left:270px;width:600px;text-align:right;">13157</div>
<div class="t" style="top:773.39px;font-size:12.6px;line-height:12.6px;color:#1d1d1d;left:313px;width:600px;text-align:right;">1987</div>
<div class="t" style="top:773.39px;font-size:12.6px;line-height:12.6px;color:#1d1d1d;left:355px;width:600px;text-align:right;">3742</div>
<div class="t" style="top:773.39px;font-size:12.6px;line-height:12.6px;color:#1d1d1d;left:388px;width:600px;text-align:right;">813</div>
<div class="t" style="top:773.39px;font-size:12.6px;line-height:12.6px;color:#1d1d1d;left:421px;width:600px;text-align:right;">34</div>
<div class="t" style="top:773.39px;font-size:12.6px;line-height:12.6px;color:#1d1d1d;left:454px;width:600px;text-align:right;">611</div>
<div class="t" style="top:773.39px;font-size:12.6px;line-height:12.6px;color:#1d1d1d;left:496px;width:600px;text-align:right;">2051</div>
<div class="t" style="top:773.39px;font-size:12.6px;line-height:12.6px;color:#1d1d1d;left:539px;width:600px;text-align:right;">1531</div>
<div class="t" style="top:773.39px;font-size:12.6px;line-height:12.6px;color:#1d1d1d;left:581px;width:600px;text-align:right;">2154</div>
<div class="t" style="top:773.39px;font-size:12.6px;line-height:12.6px;color:#1d1d1d;left:614px;width:600px;text-align:right;">6</div>
<div class="t" style="top:773.39px;font-size:12.6px;line-height:12.6px;color:#1d1d1d;left:647px;width:600px;text-align:right;">2</div>
<div class="t" style="top:773.39px;font-size:12.6px;line-height:12.6px;color:#1d1d1d;left:694px;width:600px;text-align:right;">.284</div>
<div class="t" style="top:773.39px;font-size:12.6px;line-height:12.6px;color:#1d1d1d;left:741px;width:600px;text-align:right;">.363</div>
<div class="t" style="top:773.39px;font-size:12.6px;line-height:12.6px;color:#1d1d1d;left:787px;width:600px;text-align:right;">.491</div>
<div class="t" style="top:773.39px;font-size:12.6px;line-height:12.6px;color:#1d1d1d;left:836px;width:600px;text-align:right;">.854</div>
<div class="t" style="top:773.39px;font-size:12.6px;line-height:12.6px;color:#1d1d1d;left:887px;width:600px;text-align:right;">137</div>
<div class="t" style="top:773.39px;font-size:12.6px;line-height:12.6px;color:#1d1d1d;left:935px;width:600px;text-align:right;">113.1</div>
<div class="t" style="top:797.39px;font-size:12.6px;line-height:12.6px;color:#1d1d1d;left:224px;width:600px;text-align:center;">162 Game AVG</div>
<div class="t" style="top:797.39px;font-size:12.6px;line-height:12.6px;color:#1d1d1d;left:143px;width:600px;text-align:right;">162</div>
<div class="t" style="top:797.39px;font-size:12.6px;line-height:12.6px;color:#1d1d1d;left:185px;width:600px;text-align:right;">155</div>
<div class="t" style="top:797.39px;font-size:12.6px;line-height:12.6px;color:#1d1d1d;left:228px;width:600px;text-align:right;">694</div>
<div class="t" style="top:797.39px;font-size:12.6px;line-height:12.6px;color:#1d1d1d;left:270px;width:600px;text-align:right;">610</div>
<div class="t" style="top:797.39px;font-size:12.6px;line-height:12.6px;color:#1d1d1d;left:313px;width:600px;text-align:right;">92</div>
<div class="t" style="top:797.39px;font-size:12.6px;line-height:12.6px;color:#1d1d1d;left:355px;width:600px;text-align:right;">173</div>
<div class="t" style="top:797.39px;font-size:12.6px;line-height:12.6px;color:#1d1d1d;left:388px;width:600px;text-align:right;">38</div>
<div class="t" style="top:797.39px;font-size:12.6px;line-height:12.6px;color:#1d1d1d;left:421px;width:600px;text-align:right;">2</div>
<div class="t" style="top:797.39px;font-size:12.6px;line-height:12.6px;color:#1d1d1d;left:454px;width:600px;text-align:right;">28</div>
<div class="t" style="top:797.39px;font-size:12.6px;line-height:12.6px;color:#1d1d1d;left:496px;width:600px;text-align:right;">95</div>
<div class="t" style="top:797.39px;font-size:12.6px;line-height:12.6px;color:#1d1d1d;left:539px;width:600px;text-align:right;">71</div>
<div class="t" style="top:797.39px;font-size:12.6px;line-height:12.6px;color:#1d1d1d;left:581px;width:600px;text-align:right;">100</div>
<div class="t" style="top:797.39px;font-size:12.6px;line-height:12.6px;color:#1d1d1d;left:614px;width:600px;text-align:right;">0</div>
<div class="t" style="top:797.39px;font-size:12.6px;line-height:12.6px;color:#1d1d1d;left:647px;width:600px;text-align:right;">0</div>
<div class="t" style="top:797.39px;font-size:12.6px;line-height:12.6px;color:#1d1d1d;left:694px;width:600px;text-align:right;">.284</div>
<div class="t" style="top:797.39px;font-size:12.6px;line-height:12.6px;color:#1d1d1d;left:741px;width:600px;text-align:right;">.363</div>
<div class="t" style="top:797.39px;font-size:12.6px;line-height:12.6px;color:#1d1d1d;left:787px;width:600px;text-align:right;">.490</div>
<div class="t" style="top:797.39px;font-size:12.6px;line-height:12.6px;color:#1d1d1d;left:836px;width:600px;text-align:right;">.853</div>
<div class="t" style="top:797.39px;font-size:12.6px;line-height:12.6px;color:#1d1d1d;left:887px;width:600px;text-align:right;">137</div>
<div class="t" style="top:797.39px;font-size:12.6px;line-height:12.6px;color:#1d1d1d;left:935px;width:600px;text-align:right;">5.0</div>
<div class="t" style="top:821.39px;font-size:12.6px;line-height:12.6px;color:#1d1d1d;left:224px;width:600px;text-align:center;">Career Highs</div>
<div class="t" style="top:821.39px;font-size:12.6px;line-height:12.6px;color:#1d1d1d;left:143px;width:600px;text-align:right;">163</div>
<div class="t" style="top:821.39px;font-size:12.6px;line-height:12.6px;color:#1d1d1d;left:185px;width:600px;text-align:right;">163</div>
<div class="t" style="top:821.39px;font-size:12.6px;line-height:12.6px;color:#1d1d1d;left:228px;width:600px;text-align:right;">766</div>
<div class="t" style="top:821.39px;font-size:12.6px;line-height:12.6px;color:#1d1d1d;left:270px;width:600px;text-align:right;">657</div>
<div class="t" style="top:821.39px;font-size:12.6px;line-height:12.6px;color:#1d1d1d;left:313px;width:600px;text-align:right;">131</div>
<div class="t" style="top:821.39px;font-size:12.6px;line-height:12.6px;color:#1d1d1d;left:355px;width:600px;text-align:right;">209</div>
<div class="t" style="top:821.39px;font-size:12.6px;line-height:12.6px;color:#1d1d1d;left:388px;width:600px;text-align:right;">52</div>
<div class="t" style="top:821.39px;font-size:12.6px;line-height:12.6px;color:#1d1d1d;left:421px;width:600px;text-align:right;">5</div>
<div class="t" style="top:821.39px;font-size:12.6px;line-height:12.6px;color:#1d1d1d;left:454px;width:600px;text-align:right;">49</div>
<div class="t" style="top:821.39px;font-size:12.6px;line-height:12.6px;color:#1d1d1d;left:496px;width:600px;text-align:right;">144</div>
<div class="t" style="top:821.39px;font-size:12.6px;line-height:12.6px;color:#1d1d1d;left:539px;width:600px;text-align:right;">99</div>
<div class="t" style="top:821.39px;font-size:12.6px;line-height:12.6px;color:#1d1d1d;left:581px;width:600px;text-align:right;">131</div>
<div class="t" style="top:821.39px;font-size:12.6px;line-height:12.6px;color:#1d1d1d;left:614px;width:600px;text-align:right;">2</div>
<div class="t" style="top:821.39px;font-size:12.6px;line-height:12.6px;color:#1d1d1d;left:647px;width:600px;text-align:right;">1</div>
<div class="t" style="top:821.39px;font-size:12.6px;line-height:12.6px;color:#1d1d1d;left:694px;width:600px;text-align:right;">.324</div>
<div class="t" style="top:821.39px;font-size:12.6px;line-height:12.6px;color:#1d1d1d;left:741px;width:600px;text-align:right;">.406</div>
<div class="t" style="top:821.39px;font-size:12.6px;line-height:12.6px;color:#1d1d1d;left:787px;width:600px;text-align:right;">.596</div>
<div class="t" style="top:821.39px;font-size:12.6px;line-height:12.6px;color:#1d1d1d;left:836px;width:600px;text-align:right;">1.002</div>
<div class="t" style="top:821.39px;font-size:12.6px;line-height:12.6px;color:#1d1d1d;left:887px;width:600px;text-align:right;">172</div>
<div class="t" style="top:821.39px;font-size:12.6px;line-height:12.6px;color:#1d1d1d;left:935px;width:600px;text-align:right;">8.7</div>
</body></html>
